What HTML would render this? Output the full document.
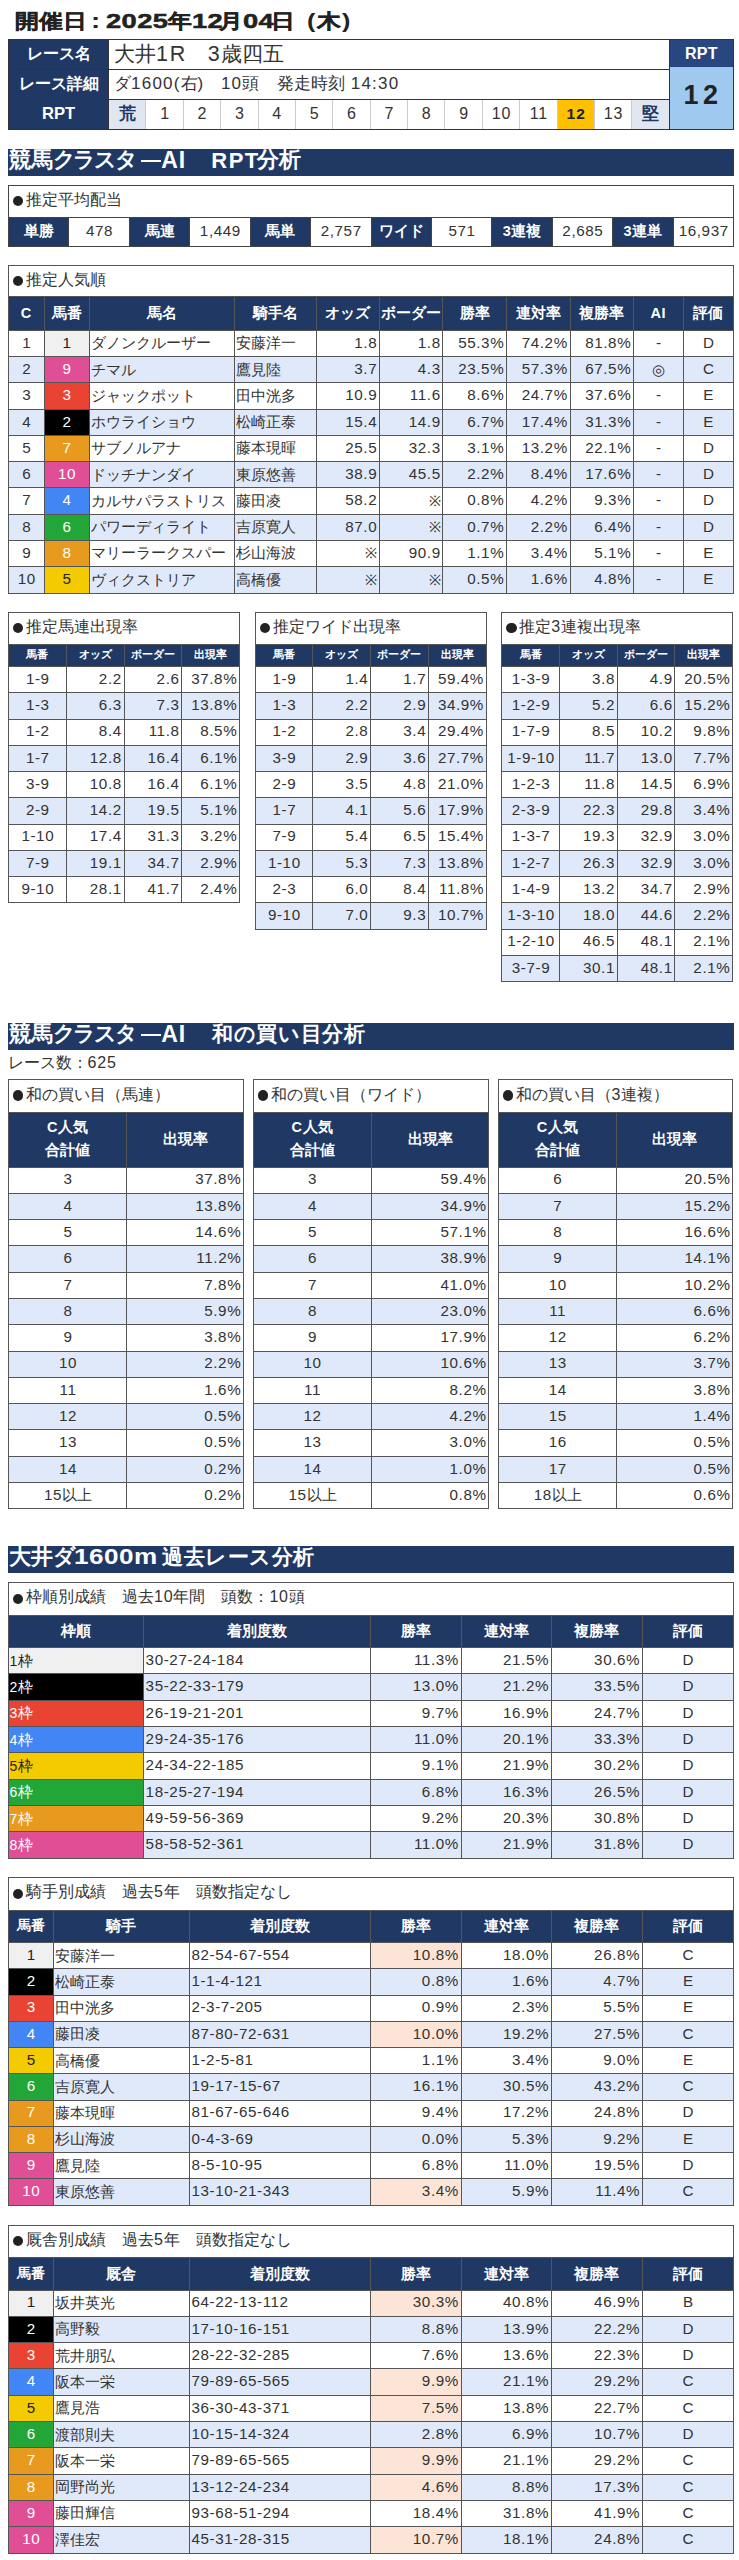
<!DOCTYPE html><html><head><meta charset="utf-8"><style>
*{margin:0;padding:0;box-sizing:border-box}
html,body{width:739px;height:2560px;background:#fff;overflow:hidden}
body{position:relative;font-family:"Liberation Sans",sans-serif;color:#333}
.r{position:absolute}
.t{position:absolute;white-space:nowrap;overflow:visible}
.dot{width:10.4px;height:10.4px;border-radius:50%;background:#222}
.title{font-weight:bold;color:#222}
.tj{font-size:23.6px}
.tn{font-size:21px;letter-spacing:3.45px}
.hl{color:#fff;font-weight:bold;font-size:15.7px}
.hlr{color:#fff;font-weight:bold;font-size:16.6px}
.rpth{color:#fff;font-weight:bold;font-size:16px;letter-spacing:0.3px}
.hb{color:#fff;font-weight:bold;font-size:14.6px}
.hn{font-size:14.5px;letter-spacing:0.6px}
.hs{color:#fff;font-weight:bold;font-size:11.4px}
.big{font-size:20.5px;color:#333}
.n19{font-size:21.5px;letter-spacing:1.6px}
.mid17{font-size:16.5px;color:#333}
.n17{font-size:17px;letter-spacing:1.2px}
.sec{font-size:16px;color:#333}
.sn{font-size:16px;letter-spacing:0.8px}
.d{font-size:15.2px;color:#333;letter-spacing:0.6px;margin-top:-0.6px}
.dj{font-size:14.5px;color:#333}
.dj2{font-size:14.5px;letter-spacing:0}
.wk{font-size:14px;letter-spacing:0}
.wj{font-size:14.5px;margin-left:0.5px}
.kj{font-size:17px;font-weight:bold;color:#203864}
.rn{font-size:16px;color:#333;letter-spacing:0.8px}
.b12{font-size:15.5px;font-weight:bold;color:#222;letter-spacing:1.2px}
.rpt{font-size:27px;font-weight:bold;color:#222;letter-spacing:4.5px}
.ban{font-size:21.5px;font-weight:bold;color:#fff}
.bn{font-size:23px;letter-spacing:1px}
</style></head><body>
<div class="t title" style="left:14.50px;top:3px;height:36px;line-height:36px;font-size:20px;transform:scaleX(1.19);transform-origin:0 0;-webkit-text-stroke:0.3px #222">開催日</div>
<div class="t title" style="left:90.50px;top:3px;height:36px;line-height:36px;font-size:22px;transform:scaleX(1.25);transform-origin:0 0">:</div>
<div class="t title" style="left:105.50px;top:3px;height:36px;line-height:36px;font-size:21px;letter-spacing:0.3px;transform:scaleX(1.3);transform-origin:0 0;-webkit-text-stroke:0.5px #222">2025</div>
<div class="t title" style="left:191.70px;top:3px;height:36px;line-height:36px;font-size:21px;letter-spacing:0.3px;transform:scaleX(1.3);transform-origin:0 0;-webkit-text-stroke:0.5px #222">12</div>
<div class="t title" style="left:243.10px;top:3px;height:36px;line-height:36px;font-size:21px;letter-spacing:0.3px;transform:scaleX(1.3);transform-origin:0 0;-webkit-text-stroke:0.5px #222">04</div>
<div class="t title" style="left:168.20px;top:3px;height:36px;line-height:36px;font-size:20px;transform:scaleX(1.19);transform-origin:0 0;-webkit-text-stroke:0.3px #222">年</div>
<div class="t title" style="left:219.00px;top:3px;height:36px;line-height:36px;font-size:20px;transform:scaleX(1.19);transform-origin:0 0;-webkit-text-stroke:0.3px #222">月</div>
<div class="t title" style="left:271.00px;top:3px;height:36px;line-height:36px;font-size:20px;transform:scaleX(1.19);transform-origin:0 0;-webkit-text-stroke:0.3px #222">日</div>
<div class="t title" style="left:307.00px;top:3px;height:36px;line-height:36px;font-size:21px;transform:scaleX(1.2);transform-origin:0 0">(</div>
<div class="t title" style="left:317.30px;top:3px;height:36px;line-height:36px;font-size:20px;transform:scaleX(1.19);transform-origin:0 0;-webkit-text-stroke:0.3px #222">木</div>
<div class="t title" style="left:342.00px;top:3px;height:36px;line-height:36px;font-size:21px;transform:scaleX(1.2);transform-origin:0 0">)</div>
<div class="r" style="left:8.50px;top:39.00px;width:100.10px;height:90.00px;background:#203864"></div>
<div class="t hl" style="left:8.50px;top:39.00px;width:100.10px;height:30.00px;line-height:30.00px;text-align:center;">レース名</div>
<div class="t hl" style="left:8.50px;top:69.00px;width:100.10px;height:30.00px;line-height:30.00px;text-align:center;">レース詳細</div>
<div class="t hlr" style="left:8.50px;top:99.00px;width:100.10px;height:30.00px;line-height:30.00px;text-align:center;">RPT</div>
<div class="t big" style="left:114.10px;top:38.50px;width:549.60px;height:30.00px;line-height:30.00px;text-align:left;">大井<span class="n19">1R</span>　<span class="n19">3</span>歳四五</div>
<div class="t mid17" style="left:114.10px;top:67.50px;width:549.60px;height:30.00px;line-height:30.00px;text-align:left;">ダ<span class="n17">1600(</span>右<span class="n17">)</span><span style="margin-left:16.5px"></span><span class="n17">10</span>頭<span style="margin-left:17.5px"></span>発走時刻<span style="margin-left:6px"></span><span class="n17">14:30</span></div>
<div class="r" style="left:108.60px;top:99.00px;width:37.37px;height:30.00px;background:#E1E7F1"></div>
<div class="t kj" style="left:108.60px;top:99.00px;width:37.37px;height:30.00px;line-height:30.00px;text-align:center;">荒</div>
<div class="t rn" style="left:145.97px;top:99.00px;width:37.37px;height:30.00px;line-height:30.00px;text-align:center;text-indent:0.8px">1</div>
<div class="t rn" style="left:183.35px;top:99.00px;width:37.37px;height:30.00px;line-height:30.00px;text-align:center;text-indent:0.8px">2</div>
<div class="t rn" style="left:220.72px;top:99.00px;width:37.37px;height:30.00px;line-height:30.00px;text-align:center;text-indent:0.8px">3</div>
<div class="t rn" style="left:258.09px;top:99.00px;width:37.37px;height:30.00px;line-height:30.00px;text-align:center;text-indent:0.8px">4</div>
<div class="t rn" style="left:295.47px;top:99.00px;width:37.37px;height:30.00px;line-height:30.00px;text-align:center;text-indent:0.8px">5</div>
<div class="t rn" style="left:332.84px;top:99.00px;width:37.37px;height:30.00px;line-height:30.00px;text-align:center;text-indent:0.8px">6</div>
<div class="t rn" style="left:370.21px;top:99.00px;width:37.37px;height:30.00px;line-height:30.00px;text-align:center;text-indent:0.8px">7</div>
<div class="t rn" style="left:407.59px;top:99.00px;width:37.37px;height:30.00px;line-height:30.00px;text-align:center;text-indent:0.8px">8</div>
<div class="t rn" style="left:444.96px;top:99.00px;width:37.37px;height:30.00px;line-height:30.00px;text-align:center;text-indent:0.8px">9</div>
<div class="t rn" style="left:482.33px;top:99.00px;width:37.37px;height:30.00px;line-height:30.00px;text-align:center;text-indent:0.8px">10</div>
<div class="t rn" style="left:519.71px;top:99.00px;width:37.37px;height:30.00px;line-height:30.00px;text-align:center;text-indent:0.8px">11</div>
<div class="r" style="left:557.08px;top:99.00px;width:37.37px;height:30.00px;background:#FFC000"></div>
<div class="t b12" style="left:557.08px;top:99.00px;width:37.37px;height:30.00px;line-height:30.00px;text-align:center;text-indent:1px">12</div>
<div class="t rn" style="left:594.45px;top:99.00px;width:37.37px;height:30.00px;line-height:30.00px;text-align:center;text-indent:0.8px">13</div>
<div class="r" style="left:631.83px;top:99.00px;width:37.37px;height:30.00px;background:#E1E7F1"></div>
<div class="t kj" style="left:631.83px;top:99.00px;width:37.37px;height:30.00px;line-height:30.00px;text-align:center;">堅</div>
<div class="r" style="left:145.47px;top:99.00px;width:1px;height:30.00px;background:#CCCCCC"></div>
<div class="r" style="left:182.85px;top:99.00px;width:1px;height:30.00px;background:#CCCCCC"></div>
<div class="r" style="left:220.22px;top:99.00px;width:1px;height:30.00px;background:#CCCCCC"></div>
<div class="r" style="left:257.59px;top:99.00px;width:1px;height:30.00px;background:#CCCCCC"></div>
<div class="r" style="left:294.97px;top:99.00px;width:1px;height:30.00px;background:#CCCCCC"></div>
<div class="r" style="left:332.34px;top:99.00px;width:1px;height:30.00px;background:#CCCCCC"></div>
<div class="r" style="left:369.71px;top:99.00px;width:1px;height:30.00px;background:#CCCCCC"></div>
<div class="r" style="left:407.09px;top:99.00px;width:1px;height:30.00px;background:#CCCCCC"></div>
<div class="r" style="left:444.46px;top:99.00px;width:1px;height:30.00px;background:#CCCCCC"></div>
<div class="r" style="left:481.83px;top:99.00px;width:1px;height:30.00px;background:#CCCCCC"></div>
<div class="r" style="left:519.21px;top:99.00px;width:1px;height:30.00px;background:#CCCCCC"></div>
<div class="r" style="left:556.58px;top:99.00px;width:1px;height:30.00px;background:#CCCCCC"></div>
<div class="r" style="left:593.95px;top:99.00px;width:1px;height:30.00px;background:#CCCCCC"></div>
<div class="r" style="left:631.33px;top:99.00px;width:1px;height:30.00px;background:#CCCCCC"></div>
<div class="r" style="left:8.00px;top:38.50px;width:661.20px;height:1px;background:#333"></div>
<div class="r" style="left:8.00px;top:68.50px;width:661.20px;height:1px;background:#333"></div>
<div class="r" style="left:8.00px;top:98.50px;width:661.20px;height:1px;background:#333"></div>
<div class="r" style="left:8.00px;top:128.50px;width:661.20px;height:1px;background:#333"></div>
<div class="r" style="left:8.00px;top:39.00px;width:1px;height:90.00px;background:#333"></div>
<div class="r" style="left:108.10px;top:39.00px;width:1px;height:90.00px;background:#333"></div>
<div class="r" style="left:669.20px;top:39.00px;width:64.30px;height:27.70px;background:#284780"></div>
<div class="r" style="left:669.20px;top:66.70px;width:64.30px;height:62.30px;background:#9FC9EE"></div>
<div class="t rpth" style="left:669.20px;top:39.50px;width:64.30px;height:27.70px;line-height:27.70px;text-align:center;">RPT</div>
<div class="t rpt" style="left:669.20px;top:64.20px;width:64.30px;height:62.30px;line-height:62.30px;text-align:center;text-indent:3.5px">12</div>
<div class="r" style="left:669.20px;top:38.50px;width:64.80px;height:1px;background:#333"></div>
<div class="r" style="left:669.20px;top:128.50px;width:64.80px;height:1px;background:#333"></div>
<div class="r" style="left:668.70px;top:39.00px;width:1px;height:90.00px;background:#333"></div>
<div class="r" style="left:733.00px;top:39.00px;width:1px;height:90.00px;background:#333"></div>
<div class="r" style="left:8.00px;top:149.00px;width:725.50px;height:27.00px;background:#203864"></div>
<div class="t ban" style="left:8.70px;top:146.50px;height:27.00px;line-height:27.00px;">競馬</div>
<div class="t ban" style="left:52.70px;top:146.50px;height:27.00px;line-height:27.00px;letter-spacing:-2.3px">クラスタ</div>
<div class="t ban" style="left:161.20px;top:146.50px;height:27.00px;line-height:27.00px;font-size:23px;letter-spacing:1px">AI</div>
<div class="t ban" style="left:211.30px;top:146.50px;height:27.00px;line-height:27.00px;font-size:22px;letter-spacing:1.5px">RPT</div>
<div class="t ban" style="left:256.50px;top:146.50px;height:27.00px;line-height:27.00px;">分析</div>
<div class="r" style="left:140.60px;top:159.50px;width:20.80px;height:2.10px;background:#fff"></div>
<div class="r dot" style="left:13.00px;top:195.80px"></div>
<div class="t sec" style="left:8.50px;top:183.50px;width:725.00px;height:32.00px;line-height:32.00px;text-align:left;left:26.00px">推定平均配当</div>
<div class="r" style="left:8.50px;top:217.00px;width:60.42px;height:29.00px;background:#203864"></div>
<div class="t hb" style="left:8.50px;top:217.00px;width:60.42px;height:29.00px;line-height:29.00px;text-align:center;">単勝</div>
<div class="t d" style="left:68.92px;top:217.00px;width:60.42px;height:29.00px;line-height:29.00px;text-align:center;text-indent:0.85px">478</div>
<div class="r" style="left:129.33px;top:217.00px;width:60.42px;height:29.00px;background:#203864"></div>
<div class="t hb" style="left:129.33px;top:217.00px;width:60.42px;height:29.00px;line-height:29.00px;text-align:center;">馬連</div>
<div class="t d" style="left:189.75px;top:217.00px;width:60.42px;height:29.00px;line-height:29.00px;text-align:center;text-indent:0.85px">1,449</div>
<div class="r" style="left:250.17px;top:217.00px;width:60.42px;height:29.00px;background:#203864"></div>
<div class="t hb" style="left:250.17px;top:217.00px;width:60.42px;height:29.00px;line-height:29.00px;text-align:center;">馬単</div>
<div class="t d" style="left:310.58px;top:217.00px;width:60.42px;height:29.00px;line-height:29.00px;text-align:center;text-indent:0.85px">2,757</div>
<div class="r" style="left:371.00px;top:217.00px;width:60.42px;height:29.00px;background:#203864"></div>
<div class="t hb" style="left:371.00px;top:217.00px;width:60.42px;height:29.00px;line-height:29.00px;text-align:center;">ワイド</div>
<div class="t d" style="left:431.42px;top:217.00px;width:60.42px;height:29.00px;line-height:29.00px;text-align:center;text-indent:0.85px">571</div>
<div class="r" style="left:491.83px;top:217.00px;width:60.42px;height:29.00px;background:#203864"></div>
<div class="t hb" style="left:491.83px;top:217.00px;width:60.42px;height:29.00px;line-height:29.00px;text-align:center;"><span class="hn">3</span>連複</div>
<div class="t d" style="left:552.25px;top:217.00px;width:60.42px;height:29.00px;line-height:29.00px;text-align:center;text-indent:0.85px">2,685</div>
<div class="r" style="left:612.67px;top:217.00px;width:60.42px;height:29.00px;background:#203864"></div>
<div class="t hb" style="left:612.67px;top:217.00px;width:60.42px;height:29.00px;line-height:29.00px;text-align:center;"><span class="hn">3</span>連単</div>
<div class="t d" style="left:673.08px;top:217.00px;width:60.42px;height:29.00px;line-height:29.00px;text-align:center;text-indent:0.85px">16,937</div>
<div class="r" style="left:8.00px;top:184.50px;width:726.00px;height:1px;background:#444"></div>
<div class="r" style="left:8.00px;top:216.50px;width:726.00px;height:1px;background:#444"></div>
<div class="r" style="left:8.00px;top:245.50px;width:726.00px;height:1px;background:#444"></div>
<div class="r" style="left:8.00px;top:185.00px;width:1px;height:61.00px;background:#444"></div>
<div class="r" style="left:733.00px;top:185.00px;width:1px;height:61.00px;background:#444"></div>
<div class="r" style="left:68.42px;top:217.00px;width:1px;height:29.00px;background:#444"></div>
<div class="r" style="left:128.83px;top:217.00px;width:1px;height:29.00px;background:#444"></div>
<div class="r" style="left:189.25px;top:217.00px;width:1px;height:29.00px;background:#444"></div>
<div class="r" style="left:249.67px;top:217.00px;width:1px;height:29.00px;background:#444"></div>
<div class="r" style="left:310.08px;top:217.00px;width:1px;height:29.00px;background:#444"></div>
<div class="r" style="left:370.50px;top:217.00px;width:1px;height:29.00px;background:#444"></div>
<div class="r" style="left:430.92px;top:217.00px;width:1px;height:29.00px;background:#444"></div>
<div class="r" style="left:491.33px;top:217.00px;width:1px;height:29.00px;background:#444"></div>
<div class="r" style="left:551.75px;top:217.00px;width:1px;height:29.00px;background:#444"></div>
<div class="r" style="left:612.17px;top:217.00px;width:1px;height:29.00px;background:#444"></div>
<div class="r" style="left:672.58px;top:217.00px;width:1px;height:29.00px;background:#444"></div>
<div class="r dot" style="left:13.00px;top:275.55px"></div>
<div class="t sec" style="left:8.50px;top:263.50px;width:724.70px;height:31.50px;line-height:31.50px;text-align:left;left:26.00px">推定人気順</div>
<div class="r" style="left:8.50px;top:296.50px;width:724.70px;height:33.80px;background:#203864"></div>
<div class="t hb" style="left:8.50px;top:296.50px;width:35.50px;height:33.80px;line-height:33.80px;text-align:center;"><span class="hn">C</span></div>
<div class="t hb" style="left:44.00px;top:296.50px;width:45.00px;height:33.80px;line-height:33.80px;text-align:center;">馬番</div>
<div class="t hb" style="left:89.00px;top:296.50px;width:145.00px;height:33.80px;line-height:33.80px;text-align:center;">馬名</div>
<div class="t hb" style="left:234.00px;top:296.50px;width:82.20px;height:33.80px;line-height:33.80px;text-align:center;">騎手名</div>
<div class="t hb" style="left:316.20px;top:296.50px;width:63.20px;height:33.80px;line-height:33.80px;text-align:center;">オッズ</div>
<div class="t hb" style="left:379.40px;top:296.50px;width:63.50px;height:33.80px;line-height:33.80px;text-align:center;">ボーダー</div>
<div class="t hb" style="left:442.90px;top:296.50px;width:63.60px;height:33.80px;line-height:33.80px;text-align:center;">勝率</div>
<div class="t hb" style="left:506.50px;top:296.50px;width:63.50px;height:33.80px;line-height:33.80px;text-align:center;">連対率</div>
<div class="t hb" style="left:570.00px;top:296.50px;width:63.50px;height:33.80px;line-height:33.80px;text-align:center;">複勝率</div>
<div class="t hb" style="left:633.50px;top:296.50px;width:49.80px;height:33.80px;line-height:33.80px;text-align:center;"><span class="hn">AI</span></div>
<div class="t hb" style="left:683.30px;top:296.50px;width:49.90px;height:33.80px;line-height:33.80px;text-align:center;">評価</div>
<div class="r" style="left:44.00px;top:330.30px;width:45.00px;height:26.27px;background:#F0F0F0"></div>
<div class="t d" style="left:8.50px;top:330.30px;width:35.50px;height:26.27px;line-height:26.27px;text-align:center;text-indent:0.85px;">1</div>
<div class="t d" style="left:44.00px;top:330.30px;width:45.00px;height:26.27px;line-height:26.27px;text-align:center;color:#222;text-indent:0.85px;">1</div>
<div class="t dj" style="left:91.00px;top:330.30px;width:141.00px;height:26.27px;line-height:26.27px;text-align:left;">ダノンクルーザー</div>
<div class="t dj" style="left:236.00px;top:330.30px;width:78.20px;height:26.27px;line-height:26.27px;text-align:left;">安藤洋一</div>
<div class="t d" style="left:318.40px;top:330.30px;width:58.80px;height:26.27px;line-height:26.27px;text-align:right;">1.8</div>
<div class="t d" style="left:381.60px;top:330.30px;width:59.10px;height:26.27px;line-height:26.27px;text-align:right;">1.8</div>
<div class="t d" style="left:445.10px;top:330.30px;width:59.20px;height:26.27px;line-height:26.27px;text-align:right;">55.3%</div>
<div class="t d" style="left:508.70px;top:330.30px;width:59.10px;height:26.27px;line-height:26.27px;text-align:right;">74.2%</div>
<div class="t d" style="left:572.20px;top:330.30px;width:59.10px;height:26.27px;line-height:26.27px;text-align:right;">81.8%</div>
<div class="t d" style="left:633.50px;top:330.30px;width:49.80px;height:26.27px;line-height:26.27px;text-align:center;text-indent:0.85px;">-</div>
<div class="t d" style="left:683.30px;top:330.30px;width:49.90px;height:26.27px;line-height:26.27px;text-align:center;text-indent:0.85px;">D</div>
<div class="r" style="left:8.50px;top:356.57px;width:724.70px;height:26.27px;background:#DFE9FA"></div>
<div class="r" style="left:44.00px;top:356.57px;width:45.00px;height:26.27px;background:#E04E96"></div>
<div class="t d" style="left:8.50px;top:356.57px;width:35.50px;height:26.27px;line-height:26.27px;text-align:center;text-indent:0.85px;">2</div>
<div class="t d" style="left:44.00px;top:356.57px;width:45.00px;height:26.27px;line-height:26.27px;text-align:center;color:#fff;text-indent:0.85px;">9</div>
<div class="t dj" style="left:91.00px;top:356.57px;width:141.00px;height:26.27px;line-height:26.27px;text-align:left;">チマル</div>
<div class="t dj" style="left:236.00px;top:356.57px;width:78.20px;height:26.27px;line-height:26.27px;text-align:left;">鷹見陸</div>
<div class="t d" style="left:318.40px;top:356.57px;width:58.80px;height:26.27px;line-height:26.27px;text-align:right;">3.7</div>
<div class="t d" style="left:381.60px;top:356.57px;width:59.10px;height:26.27px;line-height:26.27px;text-align:right;">4.3</div>
<div class="t d" style="left:445.10px;top:356.57px;width:59.20px;height:26.27px;line-height:26.27px;text-align:right;">23.5%</div>
<div class="t d" style="left:508.70px;top:356.57px;width:59.10px;height:26.27px;line-height:26.27px;text-align:right;">57.3%</div>
<div class="t d" style="left:572.20px;top:356.57px;width:59.10px;height:26.27px;line-height:26.27px;text-align:right;">67.5%</div>
<div class="t dj" style="left:633.50px;top:356.57px;width:49.80px;height:26.27px;line-height:26.27px;text-align:center;">◎</div>
<div class="t d" style="left:683.30px;top:356.57px;width:49.90px;height:26.27px;line-height:26.27px;text-align:center;text-indent:0.85px;">C</div>
<div class="r" style="left:44.00px;top:382.84px;width:45.00px;height:26.27px;background:#E94433"></div>
<div class="t d" style="left:8.50px;top:382.84px;width:35.50px;height:26.27px;line-height:26.27px;text-align:center;text-indent:0.85px;">3</div>
<div class="t d" style="left:44.00px;top:382.84px;width:45.00px;height:26.27px;line-height:26.27px;text-align:center;color:#fff;text-indent:0.85px;">3</div>
<div class="t dj" style="left:91.00px;top:382.84px;width:141.00px;height:26.27px;line-height:26.27px;text-align:left;">ジャックポット</div>
<div class="t dj" style="left:236.00px;top:382.84px;width:78.20px;height:26.27px;line-height:26.27px;text-align:left;">田中洸多</div>
<div class="t d" style="left:318.40px;top:382.84px;width:58.80px;height:26.27px;line-height:26.27px;text-align:right;">10.9</div>
<div class="t d" style="left:381.60px;top:382.84px;width:59.10px;height:26.27px;line-height:26.27px;text-align:right;">11.6</div>
<div class="t d" style="left:445.10px;top:382.84px;width:59.20px;height:26.27px;line-height:26.27px;text-align:right;">8.6%</div>
<div class="t d" style="left:508.70px;top:382.84px;width:59.10px;height:26.27px;line-height:26.27px;text-align:right;">24.7%</div>
<div class="t d" style="left:572.20px;top:382.84px;width:59.10px;height:26.27px;line-height:26.27px;text-align:right;">37.6%</div>
<div class="t d" style="left:633.50px;top:382.84px;width:49.80px;height:26.27px;line-height:26.27px;text-align:center;text-indent:0.85px;">-</div>
<div class="t d" style="left:683.30px;top:382.84px;width:49.90px;height:26.27px;line-height:26.27px;text-align:center;text-indent:0.85px;">E</div>
<div class="r" style="left:8.50px;top:409.11px;width:724.70px;height:26.27px;background:#DFE9FA"></div>
<div class="r" style="left:44.00px;top:409.11px;width:45.00px;height:26.27px;background:#000000"></div>
<div class="t d" style="left:8.50px;top:409.11px;width:35.50px;height:26.27px;line-height:26.27px;text-align:center;text-indent:0.85px;">4</div>
<div class="t d" style="left:44.00px;top:409.11px;width:45.00px;height:26.27px;line-height:26.27px;text-align:center;color:#fff;text-indent:0.85px;">2</div>
<div class="t dj" style="left:91.00px;top:409.11px;width:141.00px;height:26.27px;line-height:26.27px;text-align:left;">ホウライショウ</div>
<div class="t dj" style="left:236.00px;top:409.11px;width:78.20px;height:26.27px;line-height:26.27px;text-align:left;">松崎正泰</div>
<div class="t d" style="left:318.40px;top:409.11px;width:58.80px;height:26.27px;line-height:26.27px;text-align:right;">15.4</div>
<div class="t d" style="left:381.60px;top:409.11px;width:59.10px;height:26.27px;line-height:26.27px;text-align:right;">14.9</div>
<div class="t d" style="left:445.10px;top:409.11px;width:59.20px;height:26.27px;line-height:26.27px;text-align:right;">6.7%</div>
<div class="t d" style="left:508.70px;top:409.11px;width:59.10px;height:26.27px;line-height:26.27px;text-align:right;">17.4%</div>
<div class="t d" style="left:572.20px;top:409.11px;width:59.10px;height:26.27px;line-height:26.27px;text-align:right;">31.3%</div>
<div class="t d" style="left:633.50px;top:409.11px;width:49.80px;height:26.27px;line-height:26.27px;text-align:center;text-indent:0.85px;">-</div>
<div class="t d" style="left:683.30px;top:409.11px;width:49.90px;height:26.27px;line-height:26.27px;text-align:center;text-indent:0.85px;">E</div>
<div class="r" style="left:44.00px;top:435.38px;width:45.00px;height:26.27px;background:#E79A1E"></div>
<div class="t d" style="left:8.50px;top:435.38px;width:35.50px;height:26.27px;line-height:26.27px;text-align:center;text-indent:0.85px;">5</div>
<div class="t d" style="left:44.00px;top:435.38px;width:45.00px;height:26.27px;line-height:26.27px;text-align:center;color:#fff;text-indent:0.85px;">7</div>
<div class="t dj" style="left:91.00px;top:435.38px;width:141.00px;height:26.27px;line-height:26.27px;text-align:left;">サブノルアナ</div>
<div class="t dj" style="left:236.00px;top:435.38px;width:78.20px;height:26.27px;line-height:26.27px;text-align:left;">藤本現暉</div>
<div class="t d" style="left:318.40px;top:435.38px;width:58.80px;height:26.27px;line-height:26.27px;text-align:right;">25.5</div>
<div class="t d" style="left:381.60px;top:435.38px;width:59.10px;height:26.27px;line-height:26.27px;text-align:right;">32.3</div>
<div class="t d" style="left:445.10px;top:435.38px;width:59.20px;height:26.27px;line-height:26.27px;text-align:right;">3.1%</div>
<div class="t d" style="left:508.70px;top:435.38px;width:59.10px;height:26.27px;line-height:26.27px;text-align:right;">13.2%</div>
<div class="t d" style="left:572.20px;top:435.38px;width:59.10px;height:26.27px;line-height:26.27px;text-align:right;">22.1%</div>
<div class="t d" style="left:633.50px;top:435.38px;width:49.80px;height:26.27px;line-height:26.27px;text-align:center;text-indent:0.85px;">-</div>
<div class="t d" style="left:683.30px;top:435.38px;width:49.90px;height:26.27px;line-height:26.27px;text-align:center;text-indent:0.85px;">D</div>
<div class="r" style="left:8.50px;top:461.65px;width:724.70px;height:26.27px;background:#DFE9FA"></div>
<div class="r" style="left:44.00px;top:461.65px;width:45.00px;height:26.27px;background:#E04E96"></div>
<div class="t d" style="left:8.50px;top:461.65px;width:35.50px;height:26.27px;line-height:26.27px;text-align:center;text-indent:0.85px;">6</div>
<div class="t d" style="left:44.00px;top:461.65px;width:45.00px;height:26.27px;line-height:26.27px;text-align:center;color:#fff;text-indent:0.85px;">10</div>
<div class="t dj" style="left:91.00px;top:461.65px;width:141.00px;height:26.27px;line-height:26.27px;text-align:left;">ドッチナンダイ</div>
<div class="t dj" style="left:236.00px;top:461.65px;width:78.20px;height:26.27px;line-height:26.27px;text-align:left;">東原悠善</div>
<div class="t d" style="left:318.40px;top:461.65px;width:58.80px;height:26.27px;line-height:26.27px;text-align:right;">38.9</div>
<div class="t d" style="left:381.60px;top:461.65px;width:59.10px;height:26.27px;line-height:26.27px;text-align:right;">45.5</div>
<div class="t d" style="left:445.10px;top:461.65px;width:59.20px;height:26.27px;line-height:26.27px;text-align:right;">2.2%</div>
<div class="t d" style="left:508.70px;top:461.65px;width:59.10px;height:26.27px;line-height:26.27px;text-align:right;">8.4%</div>
<div class="t d" style="left:572.20px;top:461.65px;width:59.10px;height:26.27px;line-height:26.27px;text-align:right;">17.6%</div>
<div class="t d" style="left:633.50px;top:461.65px;width:49.80px;height:26.27px;line-height:26.27px;text-align:center;text-indent:0.85px;">-</div>
<div class="t d" style="left:683.30px;top:461.65px;width:49.90px;height:26.27px;line-height:26.27px;text-align:center;text-indent:0.85px;">D</div>
<div class="r" style="left:44.00px;top:487.92px;width:45.00px;height:26.27px;background:#4285F4"></div>
<div class="t d" style="left:8.50px;top:487.92px;width:35.50px;height:26.27px;line-height:26.27px;text-align:center;text-indent:0.85px;">7</div>
<div class="t d" style="left:44.00px;top:487.92px;width:45.00px;height:26.27px;line-height:26.27px;text-align:center;color:#fff;text-indent:0.85px;">4</div>
<div class="t dj" style="left:91.00px;top:487.92px;width:141.00px;height:26.27px;line-height:26.27px;text-align:left;">カルサパラストリス</div>
<div class="t dj" style="left:236.00px;top:487.92px;width:78.20px;height:26.27px;line-height:26.27px;text-align:left;">藤田凌</div>
<div class="t d" style="left:318.40px;top:487.92px;width:58.80px;height:26.27px;line-height:26.27px;text-align:right;">58.2</div>
<div class="t dj" style="left:381.60px;top:487.92px;width:59.10px;height:26.27px;line-height:26.27px;text-align:right;">※</div>
<div class="t d" style="left:445.10px;top:487.92px;width:59.20px;height:26.27px;line-height:26.27px;text-align:right;">0.8%</div>
<div class="t d" style="left:508.70px;top:487.92px;width:59.10px;height:26.27px;line-height:26.27px;text-align:right;">4.2%</div>
<div class="t d" style="left:572.20px;top:487.92px;width:59.10px;height:26.27px;line-height:26.27px;text-align:right;">9.3%</div>
<div class="t d" style="left:633.50px;top:487.92px;width:49.80px;height:26.27px;line-height:26.27px;text-align:center;text-indent:0.85px;">-</div>
<div class="t d" style="left:683.30px;top:487.92px;width:49.90px;height:26.27px;line-height:26.27px;text-align:center;text-indent:0.85px;">D</div>
<div class="r" style="left:8.50px;top:514.19px;width:724.70px;height:26.27px;background:#DFE9FA"></div>
<div class="r" style="left:44.00px;top:514.19px;width:45.00px;height:26.27px;background:#22A638"></div>
<div class="t d" style="left:8.50px;top:514.19px;width:35.50px;height:26.27px;line-height:26.27px;text-align:center;text-indent:0.85px;">8</div>
<div class="t d" style="left:44.00px;top:514.19px;width:45.00px;height:26.27px;line-height:26.27px;text-align:center;color:#fff;text-indent:0.85px;">6</div>
<div class="t dj" style="left:91.00px;top:514.19px;width:141.00px;height:26.27px;line-height:26.27px;text-align:left;">パワーディライト</div>
<div class="t dj" style="left:236.00px;top:514.19px;width:78.20px;height:26.27px;line-height:26.27px;text-align:left;">吉原寛人</div>
<div class="t d" style="left:318.40px;top:514.19px;width:58.80px;height:26.27px;line-height:26.27px;text-align:right;">87.0</div>
<div class="t dj" style="left:381.60px;top:514.19px;width:59.10px;height:26.27px;line-height:26.27px;text-align:right;">※</div>
<div class="t d" style="left:445.10px;top:514.19px;width:59.20px;height:26.27px;line-height:26.27px;text-align:right;">0.7%</div>
<div class="t d" style="left:508.70px;top:514.19px;width:59.10px;height:26.27px;line-height:26.27px;text-align:right;">2.2%</div>
<div class="t d" style="left:572.20px;top:514.19px;width:59.10px;height:26.27px;line-height:26.27px;text-align:right;">6.4%</div>
<div class="t d" style="left:633.50px;top:514.19px;width:49.80px;height:26.27px;line-height:26.27px;text-align:center;text-indent:0.85px;">-</div>
<div class="t d" style="left:683.30px;top:514.19px;width:49.90px;height:26.27px;line-height:26.27px;text-align:center;text-indent:0.85px;">D</div>
<div class="r" style="left:44.00px;top:540.46px;width:45.00px;height:26.27px;background:#E79A1E"></div>
<div class="t d" style="left:8.50px;top:540.46px;width:35.50px;height:26.27px;line-height:26.27px;text-align:center;text-indent:0.85px;">9</div>
<div class="t d" style="left:44.00px;top:540.46px;width:45.00px;height:26.27px;line-height:26.27px;text-align:center;color:#fff;text-indent:0.85px;">8</div>
<div class="t dj" style="left:91.00px;top:540.46px;width:141.00px;height:26.27px;line-height:26.27px;text-align:left;">マリーラークスパー</div>
<div class="t dj" style="left:236.00px;top:540.46px;width:78.20px;height:26.27px;line-height:26.27px;text-align:left;">杉山海波</div>
<div class="t dj" style="left:318.40px;top:540.46px;width:58.80px;height:26.27px;line-height:26.27px;text-align:right;">※</div>
<div class="t d" style="left:381.60px;top:540.46px;width:59.10px;height:26.27px;line-height:26.27px;text-align:right;">90.9</div>
<div class="t d" style="left:445.10px;top:540.46px;width:59.20px;height:26.27px;line-height:26.27px;text-align:right;">1.1%</div>
<div class="t d" style="left:508.70px;top:540.46px;width:59.10px;height:26.27px;line-height:26.27px;text-align:right;">3.4%</div>
<div class="t d" style="left:572.20px;top:540.46px;width:59.10px;height:26.27px;line-height:26.27px;text-align:right;">5.1%</div>
<div class="t d" style="left:633.50px;top:540.46px;width:49.80px;height:26.27px;line-height:26.27px;text-align:center;text-indent:0.85px;">-</div>
<div class="t d" style="left:683.30px;top:540.46px;width:49.90px;height:26.27px;line-height:26.27px;text-align:center;text-indent:0.85px;">E</div>
<div class="r" style="left:8.50px;top:566.73px;width:724.70px;height:26.27px;background:#DFE9FA"></div>
<div class="r" style="left:44.00px;top:566.73px;width:45.00px;height:26.27px;background:#F4CB00"></div>
<div class="t d" style="left:8.50px;top:566.73px;width:35.50px;height:26.27px;line-height:26.27px;text-align:center;text-indent:0.85px;">10</div>
<div class="t d" style="left:44.00px;top:566.73px;width:45.00px;height:26.27px;line-height:26.27px;text-align:center;color:#222;text-indent:0.85px;">5</div>
<div class="t dj" style="left:91.00px;top:566.73px;width:141.00px;height:26.27px;line-height:26.27px;text-align:left;">ヴィクストリア</div>
<div class="t dj" style="left:236.00px;top:566.73px;width:78.20px;height:26.27px;line-height:26.27px;text-align:left;">高橋優</div>
<div class="t dj" style="left:318.40px;top:566.73px;width:58.80px;height:26.27px;line-height:26.27px;text-align:right;">※</div>
<div class="t dj" style="left:381.60px;top:566.73px;width:59.10px;height:26.27px;line-height:26.27px;text-align:right;">※</div>
<div class="t d" style="left:445.10px;top:566.73px;width:59.20px;height:26.27px;line-height:26.27px;text-align:right;">0.5%</div>
<div class="t d" style="left:508.70px;top:566.73px;width:59.10px;height:26.27px;line-height:26.27px;text-align:right;">1.6%</div>
<div class="t d" style="left:572.20px;top:566.73px;width:59.10px;height:26.27px;line-height:26.27px;text-align:right;">4.8%</div>
<div class="t d" style="left:633.50px;top:566.73px;width:49.80px;height:26.27px;line-height:26.27px;text-align:center;text-indent:0.85px;">-</div>
<div class="t d" style="left:683.30px;top:566.73px;width:49.90px;height:26.27px;line-height:26.27px;text-align:center;text-indent:0.85px;">E</div>
<div class="r" style="left:8.00px;top:296.00px;width:725.70px;height:1px;background:#555555"></div>
<div class="r" style="left:8.00px;top:329.80px;width:725.70px;height:1px;background:#555555"></div>
<div class="r" style="left:8.00px;top:356.07px;width:725.70px;height:1px;background:#555555"></div>
<div class="r" style="left:8.00px;top:382.34px;width:725.70px;height:1px;background:#555555"></div>
<div class="r" style="left:8.00px;top:408.61px;width:725.70px;height:1px;background:#555555"></div>
<div class="r" style="left:8.00px;top:434.88px;width:725.70px;height:1px;background:#555555"></div>
<div class="r" style="left:8.00px;top:461.15px;width:725.70px;height:1px;background:#555555"></div>
<div class="r" style="left:8.00px;top:487.42px;width:725.70px;height:1px;background:#555555"></div>
<div class="r" style="left:8.00px;top:513.69px;width:725.70px;height:1px;background:#555555"></div>
<div class="r" style="left:8.00px;top:539.96px;width:725.70px;height:1px;background:#555555"></div>
<div class="r" style="left:8.00px;top:566.23px;width:725.70px;height:1px;background:#555555"></div>
<div class="r" style="left:8.00px;top:592.50px;width:725.70px;height:1px;background:#555555"></div>
<div class="r" style="left:8.00px;top:296.00px;width:1px;height:297.50px;background:#555555"></div>
<div class="r" style="left:43.50px;top:296.00px;width:1px;height:297.50px;background:#555555"></div>
<div class="r" style="left:88.50px;top:296.00px;width:1px;height:297.50px;background:#555555"></div>
<div class="r" style="left:233.50px;top:296.00px;width:1px;height:297.50px;background:#555555"></div>
<div class="r" style="left:315.70px;top:296.00px;width:1px;height:297.50px;background:#555555"></div>
<div class="r" style="left:378.90px;top:296.00px;width:1px;height:297.50px;background:#555555"></div>
<div class="r" style="left:442.40px;top:296.00px;width:1px;height:297.50px;background:#555555"></div>
<div class="r" style="left:506.00px;top:296.00px;width:1px;height:297.50px;background:#555555"></div>
<div class="r" style="left:569.50px;top:296.00px;width:1px;height:297.50px;background:#555555"></div>
<div class="r" style="left:633.00px;top:296.00px;width:1px;height:297.50px;background:#555555"></div>
<div class="r" style="left:682.80px;top:296.00px;width:1px;height:297.50px;background:#555555"></div>
<div class="r" style="left:732.70px;top:296.00px;width:1px;height:297.50px;background:#555555"></div>
<div class="r" style="left:8.00px;top:264.50px;width:725.70px;height:1px;background:#555555"></div>
<div class="r" style="left:8.00px;top:265.00px;width:1px;height:31.50px;background:#555555"></div>
<div class="r" style="left:732.70px;top:265.00px;width:1px;height:31.50px;background:#555555"></div>
<div class="r dot" style="left:13.00px;top:622.80px"></div>
<div class="t sec" style="left:8.50px;top:610.50px;width:231.00px;height:32.00px;line-height:32.00px;text-align:left;left:26.00px">推定馬連出現率</div>
<div class="r" style="left:8.50px;top:644.00px;width:231.00px;height:22.50px;background:#203864"></div>
<div class="t hs" style="left:8.50px;top:643.00px;width:57.75px;height:22.50px;line-height:22.50px;text-align:center;">馬番</div>
<div class="t hs" style="left:66.25px;top:643.00px;width:57.75px;height:22.50px;line-height:22.50px;text-align:center;">オッズ</div>
<div class="t hs" style="left:124.00px;top:643.00px;width:57.75px;height:22.50px;line-height:22.50px;text-align:center;">ボーダー</div>
<div class="t hs" style="left:181.75px;top:643.00px;width:57.75px;height:22.50px;line-height:22.50px;text-align:center;">出現率</div>
<div class="t d" style="left:8.50px;top:666.50px;width:57.75px;height:26.25px;line-height:26.25px;text-align:center;text-indent:0.85px">1-9</div>
<div class="t d" style="left:68.45px;top:666.50px;width:53.35px;height:26.25px;line-height:26.25px;text-align:right;">2.2</div>
<div class="t d" style="left:126.20px;top:666.50px;width:53.35px;height:26.25px;line-height:26.25px;text-align:right;">2.6</div>
<div class="t d" style="left:183.95px;top:666.50px;width:53.35px;height:26.25px;line-height:26.25px;text-align:right;">37.8%</div>
<div class="r" style="left:8.50px;top:692.75px;width:231.00px;height:26.25px;background:#DFE9FA"></div>
<div class="t d" style="left:8.50px;top:692.75px;width:57.75px;height:26.25px;line-height:26.25px;text-align:center;text-indent:0.85px">1-3</div>
<div class="t d" style="left:68.45px;top:692.75px;width:53.35px;height:26.25px;line-height:26.25px;text-align:right;">6.3</div>
<div class="t d" style="left:126.20px;top:692.75px;width:53.35px;height:26.25px;line-height:26.25px;text-align:right;">7.3</div>
<div class="t d" style="left:183.95px;top:692.75px;width:53.35px;height:26.25px;line-height:26.25px;text-align:right;">13.8%</div>
<div class="t d" style="left:8.50px;top:719.00px;width:57.75px;height:26.25px;line-height:26.25px;text-align:center;text-indent:0.85px">1-2</div>
<div class="t d" style="left:68.45px;top:719.00px;width:53.35px;height:26.25px;line-height:26.25px;text-align:right;">8.4</div>
<div class="t d" style="left:126.20px;top:719.00px;width:53.35px;height:26.25px;line-height:26.25px;text-align:right;">11.8</div>
<div class="t d" style="left:183.95px;top:719.00px;width:53.35px;height:26.25px;line-height:26.25px;text-align:right;">8.5%</div>
<div class="r" style="left:8.50px;top:745.25px;width:231.00px;height:26.25px;background:#DFE9FA"></div>
<div class="t d" style="left:8.50px;top:745.25px;width:57.75px;height:26.25px;line-height:26.25px;text-align:center;text-indent:0.85px">1-7</div>
<div class="t d" style="left:68.45px;top:745.25px;width:53.35px;height:26.25px;line-height:26.25px;text-align:right;">12.8</div>
<div class="t d" style="left:126.20px;top:745.25px;width:53.35px;height:26.25px;line-height:26.25px;text-align:right;">16.4</div>
<div class="t d" style="left:183.95px;top:745.25px;width:53.35px;height:26.25px;line-height:26.25px;text-align:right;">6.1%</div>
<div class="t d" style="left:8.50px;top:771.50px;width:57.75px;height:26.25px;line-height:26.25px;text-align:center;text-indent:0.85px">3-9</div>
<div class="t d" style="left:68.45px;top:771.50px;width:53.35px;height:26.25px;line-height:26.25px;text-align:right;">10.8</div>
<div class="t d" style="left:126.20px;top:771.50px;width:53.35px;height:26.25px;line-height:26.25px;text-align:right;">16.4</div>
<div class="t d" style="left:183.95px;top:771.50px;width:53.35px;height:26.25px;line-height:26.25px;text-align:right;">6.1%</div>
<div class="r" style="left:8.50px;top:797.75px;width:231.00px;height:26.25px;background:#DFE9FA"></div>
<div class="t d" style="left:8.50px;top:797.75px;width:57.75px;height:26.25px;line-height:26.25px;text-align:center;text-indent:0.85px">2-9</div>
<div class="t d" style="left:68.45px;top:797.75px;width:53.35px;height:26.25px;line-height:26.25px;text-align:right;">14.2</div>
<div class="t d" style="left:126.20px;top:797.75px;width:53.35px;height:26.25px;line-height:26.25px;text-align:right;">19.5</div>
<div class="t d" style="left:183.95px;top:797.75px;width:53.35px;height:26.25px;line-height:26.25px;text-align:right;">5.1%</div>
<div class="t d" style="left:8.50px;top:824.00px;width:57.75px;height:26.25px;line-height:26.25px;text-align:center;text-indent:0.85px">1-10</div>
<div class="t d" style="left:68.45px;top:824.00px;width:53.35px;height:26.25px;line-height:26.25px;text-align:right;">17.4</div>
<div class="t d" style="left:126.20px;top:824.00px;width:53.35px;height:26.25px;line-height:26.25px;text-align:right;">31.3</div>
<div class="t d" style="left:183.95px;top:824.00px;width:53.35px;height:26.25px;line-height:26.25px;text-align:right;">3.2%</div>
<div class="r" style="left:8.50px;top:850.25px;width:231.00px;height:26.25px;background:#DFE9FA"></div>
<div class="t d" style="left:8.50px;top:850.25px;width:57.75px;height:26.25px;line-height:26.25px;text-align:center;text-indent:0.85px">7-9</div>
<div class="t d" style="left:68.45px;top:850.25px;width:53.35px;height:26.25px;line-height:26.25px;text-align:right;">19.1</div>
<div class="t d" style="left:126.20px;top:850.25px;width:53.35px;height:26.25px;line-height:26.25px;text-align:right;">34.7</div>
<div class="t d" style="left:183.95px;top:850.25px;width:53.35px;height:26.25px;line-height:26.25px;text-align:right;">2.9%</div>
<div class="t d" style="left:8.50px;top:876.50px;width:57.75px;height:26.25px;line-height:26.25px;text-align:center;text-indent:0.85px">9-10</div>
<div class="t d" style="left:68.45px;top:876.50px;width:53.35px;height:26.25px;line-height:26.25px;text-align:right;">28.1</div>
<div class="t d" style="left:126.20px;top:876.50px;width:53.35px;height:26.25px;line-height:26.25px;text-align:right;">41.7</div>
<div class="t d" style="left:183.95px;top:876.50px;width:53.35px;height:26.25px;line-height:26.25px;text-align:right;">2.4%</div>
<div class="r" style="left:8.00px;top:643.50px;width:232.00px;height:1px;background:#555555"></div>
<div class="r" style="left:8.00px;top:666.00px;width:232.00px;height:1px;background:#555555"></div>
<div class="r" style="left:8.00px;top:692.25px;width:232.00px;height:1px;background:#555555"></div>
<div class="r" style="left:8.00px;top:718.50px;width:232.00px;height:1px;background:#555555"></div>
<div class="r" style="left:8.00px;top:744.75px;width:232.00px;height:1px;background:#555555"></div>
<div class="r" style="left:8.00px;top:771.00px;width:232.00px;height:1px;background:#555555"></div>
<div class="r" style="left:8.00px;top:797.25px;width:232.00px;height:1px;background:#555555"></div>
<div class="r" style="left:8.00px;top:823.50px;width:232.00px;height:1px;background:#555555"></div>
<div class="r" style="left:8.00px;top:849.75px;width:232.00px;height:1px;background:#555555"></div>
<div class="r" style="left:8.00px;top:876.00px;width:232.00px;height:1px;background:#555555"></div>
<div class="r" style="left:8.00px;top:902.25px;width:232.00px;height:1px;background:#555555"></div>
<div class="r" style="left:8.00px;top:643.50px;width:1px;height:259.75px;background:#555555"></div>
<div class="r" style="left:65.75px;top:643.50px;width:1px;height:259.75px;background:#555555"></div>
<div class="r" style="left:123.50px;top:643.50px;width:1px;height:259.75px;background:#555555"></div>
<div class="r" style="left:181.25px;top:643.50px;width:1px;height:259.75px;background:#555555"></div>
<div class="r" style="left:239.00px;top:643.50px;width:1px;height:259.75px;background:#555555"></div>
<div class="r" style="left:8.00px;top:611.50px;width:232.00px;height:1px;background:#555555"></div>
<div class="r" style="left:8.00px;top:612.00px;width:1px;height:32.00px;background:#555555"></div>
<div class="r" style="left:239.00px;top:612.00px;width:1px;height:32.00px;background:#555555"></div>
<div class="r dot" style="left:259.50px;top:622.80px"></div>
<div class="t sec" style="left:255.00px;top:610.50px;width:231.20px;height:32.00px;line-height:32.00px;text-align:left;left:272.50px">推定ワイド出現率</div>
<div class="r" style="left:255.00px;top:644.00px;width:231.20px;height:22.50px;background:#203864"></div>
<div class="t hs" style="left:255.00px;top:643.00px;width:57.80px;height:22.50px;line-height:22.50px;text-align:center;">馬番</div>
<div class="t hs" style="left:312.80px;top:643.00px;width:57.80px;height:22.50px;line-height:22.50px;text-align:center;">オッズ</div>
<div class="t hs" style="left:370.60px;top:643.00px;width:57.80px;height:22.50px;line-height:22.50px;text-align:center;">ボーダー</div>
<div class="t hs" style="left:428.40px;top:643.00px;width:57.80px;height:22.50px;line-height:22.50px;text-align:center;">出現率</div>
<div class="t d" style="left:255.00px;top:666.50px;width:57.80px;height:26.25px;line-height:26.25px;text-align:center;text-indent:0.85px">1-9</div>
<div class="t d" style="left:315.00px;top:666.50px;width:53.40px;height:26.25px;line-height:26.25px;text-align:right;">1.4</div>
<div class="t d" style="left:372.80px;top:666.50px;width:53.40px;height:26.25px;line-height:26.25px;text-align:right;">1.7</div>
<div class="t d" style="left:430.60px;top:666.50px;width:53.40px;height:26.25px;line-height:26.25px;text-align:right;">59.4%</div>
<div class="r" style="left:255.00px;top:692.75px;width:231.20px;height:26.25px;background:#DFE9FA"></div>
<div class="t d" style="left:255.00px;top:692.75px;width:57.80px;height:26.25px;line-height:26.25px;text-align:center;text-indent:0.85px">1-3</div>
<div class="t d" style="left:315.00px;top:692.75px;width:53.40px;height:26.25px;line-height:26.25px;text-align:right;">2.2</div>
<div class="t d" style="left:372.80px;top:692.75px;width:53.40px;height:26.25px;line-height:26.25px;text-align:right;">2.9</div>
<div class="t d" style="left:430.60px;top:692.75px;width:53.40px;height:26.25px;line-height:26.25px;text-align:right;">34.9%</div>
<div class="t d" style="left:255.00px;top:719.00px;width:57.80px;height:26.25px;line-height:26.25px;text-align:center;text-indent:0.85px">1-2</div>
<div class="t d" style="left:315.00px;top:719.00px;width:53.40px;height:26.25px;line-height:26.25px;text-align:right;">2.8</div>
<div class="t d" style="left:372.80px;top:719.00px;width:53.40px;height:26.25px;line-height:26.25px;text-align:right;">3.4</div>
<div class="t d" style="left:430.60px;top:719.00px;width:53.40px;height:26.25px;line-height:26.25px;text-align:right;">29.4%</div>
<div class="r" style="left:255.00px;top:745.25px;width:231.20px;height:26.25px;background:#DFE9FA"></div>
<div class="t d" style="left:255.00px;top:745.25px;width:57.80px;height:26.25px;line-height:26.25px;text-align:center;text-indent:0.85px">3-9</div>
<div class="t d" style="left:315.00px;top:745.25px;width:53.40px;height:26.25px;line-height:26.25px;text-align:right;">2.9</div>
<div class="t d" style="left:372.80px;top:745.25px;width:53.40px;height:26.25px;line-height:26.25px;text-align:right;">3.6</div>
<div class="t d" style="left:430.60px;top:745.25px;width:53.40px;height:26.25px;line-height:26.25px;text-align:right;">27.7%</div>
<div class="t d" style="left:255.00px;top:771.50px;width:57.80px;height:26.25px;line-height:26.25px;text-align:center;text-indent:0.85px">2-9</div>
<div class="t d" style="left:315.00px;top:771.50px;width:53.40px;height:26.25px;line-height:26.25px;text-align:right;">3.5</div>
<div class="t d" style="left:372.80px;top:771.50px;width:53.40px;height:26.25px;line-height:26.25px;text-align:right;">4.8</div>
<div class="t d" style="left:430.60px;top:771.50px;width:53.40px;height:26.25px;line-height:26.25px;text-align:right;">21.0%</div>
<div class="r" style="left:255.00px;top:797.75px;width:231.20px;height:26.25px;background:#DFE9FA"></div>
<div class="t d" style="left:255.00px;top:797.75px;width:57.80px;height:26.25px;line-height:26.25px;text-align:center;text-indent:0.85px">1-7</div>
<div class="t d" style="left:315.00px;top:797.75px;width:53.40px;height:26.25px;line-height:26.25px;text-align:right;">4.1</div>
<div class="t d" style="left:372.80px;top:797.75px;width:53.40px;height:26.25px;line-height:26.25px;text-align:right;">5.6</div>
<div class="t d" style="left:430.60px;top:797.75px;width:53.40px;height:26.25px;line-height:26.25px;text-align:right;">17.9%</div>
<div class="t d" style="left:255.00px;top:824.00px;width:57.80px;height:26.25px;line-height:26.25px;text-align:center;text-indent:0.85px">7-9</div>
<div class="t d" style="left:315.00px;top:824.00px;width:53.40px;height:26.25px;line-height:26.25px;text-align:right;">5.4</div>
<div class="t d" style="left:372.80px;top:824.00px;width:53.40px;height:26.25px;line-height:26.25px;text-align:right;">6.5</div>
<div class="t d" style="left:430.60px;top:824.00px;width:53.40px;height:26.25px;line-height:26.25px;text-align:right;">15.4%</div>
<div class="r" style="left:255.00px;top:850.25px;width:231.20px;height:26.25px;background:#DFE9FA"></div>
<div class="t d" style="left:255.00px;top:850.25px;width:57.80px;height:26.25px;line-height:26.25px;text-align:center;text-indent:0.85px">1-10</div>
<div class="t d" style="left:315.00px;top:850.25px;width:53.40px;height:26.25px;line-height:26.25px;text-align:right;">5.3</div>
<div class="t d" style="left:372.80px;top:850.25px;width:53.40px;height:26.25px;line-height:26.25px;text-align:right;">7.3</div>
<div class="t d" style="left:430.60px;top:850.25px;width:53.40px;height:26.25px;line-height:26.25px;text-align:right;">13.8%</div>
<div class="t d" style="left:255.00px;top:876.50px;width:57.80px;height:26.25px;line-height:26.25px;text-align:center;text-indent:0.85px">2-3</div>
<div class="t d" style="left:315.00px;top:876.50px;width:53.40px;height:26.25px;line-height:26.25px;text-align:right;">6.0</div>
<div class="t d" style="left:372.80px;top:876.50px;width:53.40px;height:26.25px;line-height:26.25px;text-align:right;">8.4</div>
<div class="t d" style="left:430.60px;top:876.50px;width:53.40px;height:26.25px;line-height:26.25px;text-align:right;">11.8%</div>
<div class="r" style="left:255.00px;top:902.75px;width:231.20px;height:26.25px;background:#DFE9FA"></div>
<div class="t d" style="left:255.00px;top:902.75px;width:57.80px;height:26.25px;line-height:26.25px;text-align:center;text-indent:0.85px">9-10</div>
<div class="t d" style="left:315.00px;top:902.75px;width:53.40px;height:26.25px;line-height:26.25px;text-align:right;">7.0</div>
<div class="t d" style="left:372.80px;top:902.75px;width:53.40px;height:26.25px;line-height:26.25px;text-align:right;">9.3</div>
<div class="t d" style="left:430.60px;top:902.75px;width:53.40px;height:26.25px;line-height:26.25px;text-align:right;">10.7%</div>
<div class="r" style="left:254.50px;top:643.50px;width:232.20px;height:1px;background:#555555"></div>
<div class="r" style="left:254.50px;top:666.00px;width:232.20px;height:1px;background:#555555"></div>
<div class="r" style="left:254.50px;top:692.25px;width:232.20px;height:1px;background:#555555"></div>
<div class="r" style="left:254.50px;top:718.50px;width:232.20px;height:1px;background:#555555"></div>
<div class="r" style="left:254.50px;top:744.75px;width:232.20px;height:1px;background:#555555"></div>
<div class="r" style="left:254.50px;top:771.00px;width:232.20px;height:1px;background:#555555"></div>
<div class="r" style="left:254.50px;top:797.25px;width:232.20px;height:1px;background:#555555"></div>
<div class="r" style="left:254.50px;top:823.50px;width:232.20px;height:1px;background:#555555"></div>
<div class="r" style="left:254.50px;top:849.75px;width:232.20px;height:1px;background:#555555"></div>
<div class="r" style="left:254.50px;top:876.00px;width:232.20px;height:1px;background:#555555"></div>
<div class="r" style="left:254.50px;top:902.25px;width:232.20px;height:1px;background:#555555"></div>
<div class="r" style="left:254.50px;top:928.50px;width:232.20px;height:1px;background:#555555"></div>
<div class="r" style="left:254.50px;top:643.50px;width:1px;height:286.00px;background:#555555"></div>
<div class="r" style="left:312.30px;top:643.50px;width:1px;height:286.00px;background:#555555"></div>
<div class="r" style="left:370.10px;top:643.50px;width:1px;height:286.00px;background:#555555"></div>
<div class="r" style="left:427.90px;top:643.50px;width:1px;height:286.00px;background:#555555"></div>
<div class="r" style="left:485.70px;top:643.50px;width:1px;height:286.00px;background:#555555"></div>
<div class="r" style="left:254.50px;top:611.50px;width:232.20px;height:1px;background:#555555"></div>
<div class="r" style="left:254.50px;top:612.00px;width:1px;height:32.00px;background:#555555"></div>
<div class="r" style="left:485.70px;top:612.00px;width:1px;height:32.00px;background:#555555"></div>
<div class="r dot" style="left:506.30px;top:622.80px"></div>
<div class="t sec" style="left:501.80px;top:610.50px;width:230.80px;height:32.00px;line-height:32.00px;text-align:left;left:519.30px">推定<span class="sn">3</span>連複出現率</div>
<div class="r" style="left:501.80px;top:644.00px;width:230.80px;height:22.50px;background:#203864"></div>
<div class="t hs" style="left:501.80px;top:643.00px;width:57.70px;height:22.50px;line-height:22.50px;text-align:center;">馬番</div>
<div class="t hs" style="left:559.50px;top:643.00px;width:57.70px;height:22.50px;line-height:22.50px;text-align:center;">オッズ</div>
<div class="t hs" style="left:617.20px;top:643.00px;width:57.70px;height:22.50px;line-height:22.50px;text-align:center;">ボーダー</div>
<div class="t hs" style="left:674.90px;top:643.00px;width:57.70px;height:22.50px;line-height:22.50px;text-align:center;">出現率</div>
<div class="t d" style="left:501.80px;top:666.50px;width:57.70px;height:26.25px;line-height:26.25px;text-align:center;text-indent:0.85px">1-3-9</div>
<div class="t d" style="left:561.70px;top:666.50px;width:53.30px;height:26.25px;line-height:26.25px;text-align:right;">3.8</div>
<div class="t d" style="left:619.40px;top:666.50px;width:53.30px;height:26.25px;line-height:26.25px;text-align:right;">4.9</div>
<div class="t d" style="left:677.10px;top:666.50px;width:53.30px;height:26.25px;line-height:26.25px;text-align:right;">20.5%</div>
<div class="r" style="left:501.80px;top:692.75px;width:230.80px;height:26.25px;background:#DFE9FA"></div>
<div class="t d" style="left:501.80px;top:692.75px;width:57.70px;height:26.25px;line-height:26.25px;text-align:center;text-indent:0.85px">1-2-9</div>
<div class="t d" style="left:561.70px;top:692.75px;width:53.30px;height:26.25px;line-height:26.25px;text-align:right;">5.2</div>
<div class="t d" style="left:619.40px;top:692.75px;width:53.30px;height:26.25px;line-height:26.25px;text-align:right;">6.6</div>
<div class="t d" style="left:677.10px;top:692.75px;width:53.30px;height:26.25px;line-height:26.25px;text-align:right;">15.2%</div>
<div class="t d" style="left:501.80px;top:719.00px;width:57.70px;height:26.25px;line-height:26.25px;text-align:center;text-indent:0.85px">1-7-9</div>
<div class="t d" style="left:561.70px;top:719.00px;width:53.30px;height:26.25px;line-height:26.25px;text-align:right;">8.5</div>
<div class="t d" style="left:619.40px;top:719.00px;width:53.30px;height:26.25px;line-height:26.25px;text-align:right;">10.2</div>
<div class="t d" style="left:677.10px;top:719.00px;width:53.30px;height:26.25px;line-height:26.25px;text-align:right;">9.8%</div>
<div class="r" style="left:501.80px;top:745.25px;width:230.80px;height:26.25px;background:#DFE9FA"></div>
<div class="t d" style="left:501.80px;top:745.25px;width:57.70px;height:26.25px;line-height:26.25px;text-align:center;text-indent:0.85px">1-9-10</div>
<div class="t d" style="left:561.70px;top:745.25px;width:53.30px;height:26.25px;line-height:26.25px;text-align:right;">11.7</div>
<div class="t d" style="left:619.40px;top:745.25px;width:53.30px;height:26.25px;line-height:26.25px;text-align:right;">13.0</div>
<div class="t d" style="left:677.10px;top:745.25px;width:53.30px;height:26.25px;line-height:26.25px;text-align:right;">7.7%</div>
<div class="t d" style="left:501.80px;top:771.50px;width:57.70px;height:26.25px;line-height:26.25px;text-align:center;text-indent:0.85px">1-2-3</div>
<div class="t d" style="left:561.70px;top:771.50px;width:53.30px;height:26.25px;line-height:26.25px;text-align:right;">11.8</div>
<div class="t d" style="left:619.40px;top:771.50px;width:53.30px;height:26.25px;line-height:26.25px;text-align:right;">14.5</div>
<div class="t d" style="left:677.10px;top:771.50px;width:53.30px;height:26.25px;line-height:26.25px;text-align:right;">6.9%</div>
<div class="r" style="left:501.80px;top:797.75px;width:230.80px;height:26.25px;background:#DFE9FA"></div>
<div class="t d" style="left:501.80px;top:797.75px;width:57.70px;height:26.25px;line-height:26.25px;text-align:center;text-indent:0.85px">2-3-9</div>
<div class="t d" style="left:561.70px;top:797.75px;width:53.30px;height:26.25px;line-height:26.25px;text-align:right;">22.3</div>
<div class="t d" style="left:619.40px;top:797.75px;width:53.30px;height:26.25px;line-height:26.25px;text-align:right;">29.8</div>
<div class="t d" style="left:677.10px;top:797.75px;width:53.30px;height:26.25px;line-height:26.25px;text-align:right;">3.4%</div>
<div class="t d" style="left:501.80px;top:824.00px;width:57.70px;height:26.25px;line-height:26.25px;text-align:center;text-indent:0.85px">1-3-7</div>
<div class="t d" style="left:561.70px;top:824.00px;width:53.30px;height:26.25px;line-height:26.25px;text-align:right;">19.3</div>
<div class="t d" style="left:619.40px;top:824.00px;width:53.30px;height:26.25px;line-height:26.25px;text-align:right;">32.9</div>
<div class="t d" style="left:677.10px;top:824.00px;width:53.30px;height:26.25px;line-height:26.25px;text-align:right;">3.0%</div>
<div class="r" style="left:501.80px;top:850.25px;width:230.80px;height:26.25px;background:#DFE9FA"></div>
<div class="t d" style="left:501.80px;top:850.25px;width:57.70px;height:26.25px;line-height:26.25px;text-align:center;text-indent:0.85px">1-2-7</div>
<div class="t d" style="left:561.70px;top:850.25px;width:53.30px;height:26.25px;line-height:26.25px;text-align:right;">26.3</div>
<div class="t d" style="left:619.40px;top:850.25px;width:53.30px;height:26.25px;line-height:26.25px;text-align:right;">32.9</div>
<div class="t d" style="left:677.10px;top:850.25px;width:53.30px;height:26.25px;line-height:26.25px;text-align:right;">3.0%</div>
<div class="t d" style="left:501.80px;top:876.50px;width:57.70px;height:26.25px;line-height:26.25px;text-align:center;text-indent:0.85px">1-4-9</div>
<div class="t d" style="left:561.70px;top:876.50px;width:53.30px;height:26.25px;line-height:26.25px;text-align:right;">13.2</div>
<div class="t d" style="left:619.40px;top:876.50px;width:53.30px;height:26.25px;line-height:26.25px;text-align:right;">34.7</div>
<div class="t d" style="left:677.10px;top:876.50px;width:53.30px;height:26.25px;line-height:26.25px;text-align:right;">2.9%</div>
<div class="r" style="left:501.80px;top:902.75px;width:230.80px;height:26.25px;background:#DFE9FA"></div>
<div class="t d" style="left:501.80px;top:902.75px;width:57.70px;height:26.25px;line-height:26.25px;text-align:center;text-indent:0.85px">1-3-10</div>
<div class="t d" style="left:561.70px;top:902.75px;width:53.30px;height:26.25px;line-height:26.25px;text-align:right;">18.0</div>
<div class="t d" style="left:619.40px;top:902.75px;width:53.30px;height:26.25px;line-height:26.25px;text-align:right;">44.6</div>
<div class="t d" style="left:677.10px;top:902.75px;width:53.30px;height:26.25px;line-height:26.25px;text-align:right;">2.2%</div>
<div class="t d" style="left:501.80px;top:929.00px;width:57.70px;height:26.25px;line-height:26.25px;text-align:center;text-indent:0.85px">1-2-10</div>
<div class="t d" style="left:561.70px;top:929.00px;width:53.30px;height:26.25px;line-height:26.25px;text-align:right;">46.5</div>
<div class="t d" style="left:619.40px;top:929.00px;width:53.30px;height:26.25px;line-height:26.25px;text-align:right;">48.1</div>
<div class="t d" style="left:677.10px;top:929.00px;width:53.30px;height:26.25px;line-height:26.25px;text-align:right;">2.1%</div>
<div class="r" style="left:501.80px;top:955.25px;width:230.80px;height:26.25px;background:#DFE9FA"></div>
<div class="t d" style="left:501.80px;top:955.25px;width:57.70px;height:26.25px;line-height:26.25px;text-align:center;text-indent:0.85px">3-7-9</div>
<div class="t d" style="left:561.70px;top:955.25px;width:53.30px;height:26.25px;line-height:26.25px;text-align:right;">30.1</div>
<div class="t d" style="left:619.40px;top:955.25px;width:53.30px;height:26.25px;line-height:26.25px;text-align:right;">48.1</div>
<div class="t d" style="left:677.10px;top:955.25px;width:53.30px;height:26.25px;line-height:26.25px;text-align:right;">2.1%</div>
<div class="r" style="left:501.30px;top:643.50px;width:231.80px;height:1px;background:#555555"></div>
<div class="r" style="left:501.30px;top:666.00px;width:231.80px;height:1px;background:#555555"></div>
<div class="r" style="left:501.30px;top:692.25px;width:231.80px;height:1px;background:#555555"></div>
<div class="r" style="left:501.30px;top:718.50px;width:231.80px;height:1px;background:#555555"></div>
<div class="r" style="left:501.30px;top:744.75px;width:231.80px;height:1px;background:#555555"></div>
<div class="r" style="left:501.30px;top:771.00px;width:231.80px;height:1px;background:#555555"></div>
<div class="r" style="left:501.30px;top:797.25px;width:231.80px;height:1px;background:#555555"></div>
<div class="r" style="left:501.30px;top:823.50px;width:231.80px;height:1px;background:#555555"></div>
<div class="r" style="left:501.30px;top:849.75px;width:231.80px;height:1px;background:#555555"></div>
<div class="r" style="left:501.30px;top:876.00px;width:231.80px;height:1px;background:#555555"></div>
<div class="r" style="left:501.30px;top:902.25px;width:231.80px;height:1px;background:#555555"></div>
<div class="r" style="left:501.30px;top:928.50px;width:231.80px;height:1px;background:#555555"></div>
<div class="r" style="left:501.30px;top:954.75px;width:231.80px;height:1px;background:#555555"></div>
<div class="r" style="left:501.30px;top:981.00px;width:231.80px;height:1px;background:#555555"></div>
<div class="r" style="left:501.30px;top:643.50px;width:1px;height:338.50px;background:#555555"></div>
<div class="r" style="left:559.00px;top:643.50px;width:1px;height:338.50px;background:#555555"></div>
<div class="r" style="left:616.70px;top:643.50px;width:1px;height:338.50px;background:#555555"></div>
<div class="r" style="left:674.40px;top:643.50px;width:1px;height:338.50px;background:#555555"></div>
<div class="r" style="left:732.10px;top:643.50px;width:1px;height:338.50px;background:#555555"></div>
<div class="r" style="left:501.30px;top:611.50px;width:231.80px;height:1px;background:#555555"></div>
<div class="r" style="left:501.30px;top:612.00px;width:1px;height:32.00px;background:#555555"></div>
<div class="r" style="left:732.10px;top:612.00px;width:1px;height:32.00px;background:#555555"></div>
<div class="r" style="left:8.00px;top:1023.00px;width:725.50px;height:26.70px;background:#203864"></div>
<div class="t ban" style="left:8.70px;top:1020.50px;height:26.70px;line-height:26.70px;">競馬</div>
<div class="t ban" style="left:52.70px;top:1020.50px;height:26.70px;line-height:26.70px;letter-spacing:-2.3px">クラスタ</div>
<div class="t ban" style="left:161.20px;top:1020.50px;height:26.70px;line-height:26.70px;font-size:23px;letter-spacing:1px">AI</div>
<div class="t ban" style="left:212.00px;top:1020.50px;height:26.70px;line-height:26.70px;font-size:21px;letter-spacing:0.65px">和の買い目分析</div>
<div class="r" style="left:140.60px;top:1033.50px;width:20.80px;height:2.10px;background:#fff"></div>
<div class="t sec" style="left:7.50px;top:1048.50px;width:292.50px;height:27.00px;line-height:27.00px;text-align:left;">レース数：<span class="sn">625</span></div>
<div class="r dot" style="left:13.00px;top:1090.30px"></div>
<div class="t sec" style="left:8.50px;top:1077.50px;width:235.00px;height:33.00px;line-height:33.00px;text-align:left;left:26.00px">和の買い目（馬連）</div>
<div class="r" style="left:8.50px;top:1112.00px;width:235.00px;height:55.00px;background:#203864"></div>
<div class="t hb" style="left:8.50px;top:1113.50px;width:118.20px;height:27.50px;line-height:27.50px;text-align:center;"><span class="hn">C</span>人気</div>
<div class="t hb" style="left:8.50px;top:1137.00px;width:118.20px;height:27.50px;line-height:27.50px;text-align:center;">合計値</div>
<div class="t hb" style="left:126.70px;top:1112.00px;width:116.80px;height:55.00px;line-height:55.00px;text-align:center;">出現率</div>
<div class="t d" style="left:8.50px;top:1167.00px;width:118.20px;height:26.29px;line-height:26.29px;text-align:center;text-indent:0.85px">3</div>
<div class="t d" style="left:128.90px;top:1167.00px;width:112.40px;height:26.29px;line-height:26.29px;text-align:right;">37.8%</div>
<div class="r" style="left:8.50px;top:1193.29px;width:235.00px;height:26.29px;background:#DFE9FA"></div>
<div class="t d" style="left:8.50px;top:1193.29px;width:118.20px;height:26.29px;line-height:26.29px;text-align:center;text-indent:0.85px">4</div>
<div class="t d" style="left:128.90px;top:1193.29px;width:112.40px;height:26.29px;line-height:26.29px;text-align:right;">13.8%</div>
<div class="t d" style="left:8.50px;top:1219.58px;width:118.20px;height:26.29px;line-height:26.29px;text-align:center;text-indent:0.85px">5</div>
<div class="t d" style="left:128.90px;top:1219.58px;width:112.40px;height:26.29px;line-height:26.29px;text-align:right;">14.6%</div>
<div class="r" style="left:8.50px;top:1245.88px;width:235.00px;height:26.29px;background:#DFE9FA"></div>
<div class="t d" style="left:8.50px;top:1245.88px;width:118.20px;height:26.29px;line-height:26.29px;text-align:center;text-indent:0.85px">6</div>
<div class="t d" style="left:128.90px;top:1245.88px;width:112.40px;height:26.29px;line-height:26.29px;text-align:right;">11.2%</div>
<div class="t d" style="left:8.50px;top:1272.17px;width:118.20px;height:26.29px;line-height:26.29px;text-align:center;text-indent:0.85px">7</div>
<div class="t d" style="left:128.90px;top:1272.17px;width:112.40px;height:26.29px;line-height:26.29px;text-align:right;">7.8%</div>
<div class="r" style="left:8.50px;top:1298.46px;width:235.00px;height:26.29px;background:#DFE9FA"></div>
<div class="t d" style="left:8.50px;top:1298.46px;width:118.20px;height:26.29px;line-height:26.29px;text-align:center;text-indent:0.85px">8</div>
<div class="t d" style="left:128.90px;top:1298.46px;width:112.40px;height:26.29px;line-height:26.29px;text-align:right;">5.9%</div>
<div class="t d" style="left:8.50px;top:1324.75px;width:118.20px;height:26.29px;line-height:26.29px;text-align:center;text-indent:0.85px">9</div>
<div class="t d" style="left:128.90px;top:1324.75px;width:112.40px;height:26.29px;line-height:26.29px;text-align:right;">3.8%</div>
<div class="r" style="left:8.50px;top:1351.05px;width:235.00px;height:26.29px;background:#DFE9FA"></div>
<div class="t d" style="left:8.50px;top:1351.05px;width:118.20px;height:26.29px;line-height:26.29px;text-align:center;text-indent:0.85px">10</div>
<div class="t d" style="left:128.90px;top:1351.05px;width:112.40px;height:26.29px;line-height:26.29px;text-align:right;">2.2%</div>
<div class="t d" style="left:8.50px;top:1377.34px;width:118.20px;height:26.29px;line-height:26.29px;text-align:center;text-indent:0.85px">11</div>
<div class="t d" style="left:128.90px;top:1377.34px;width:112.40px;height:26.29px;line-height:26.29px;text-align:right;">1.6%</div>
<div class="r" style="left:8.50px;top:1403.63px;width:235.00px;height:26.29px;background:#DFE9FA"></div>
<div class="t d" style="left:8.50px;top:1403.63px;width:118.20px;height:26.29px;line-height:26.29px;text-align:center;text-indent:0.85px">12</div>
<div class="t d" style="left:128.90px;top:1403.63px;width:112.40px;height:26.29px;line-height:26.29px;text-align:right;">0.5%</div>
<div class="t d" style="left:8.50px;top:1429.92px;width:118.20px;height:26.29px;line-height:26.29px;text-align:center;text-indent:0.85px">13</div>
<div class="t d" style="left:128.90px;top:1429.92px;width:112.40px;height:26.29px;line-height:26.29px;text-align:right;">0.5%</div>
<div class="r" style="left:8.50px;top:1456.22px;width:235.00px;height:26.29px;background:#DFE9FA"></div>
<div class="t d" style="left:8.50px;top:1456.22px;width:118.20px;height:26.29px;line-height:26.29px;text-align:center;text-indent:0.85px">14</div>
<div class="t d" style="left:128.90px;top:1456.22px;width:112.40px;height:26.29px;line-height:26.29px;text-align:right;">0.2%</div>
<div class="t d" style="left:8.50px;top:1482.51px;width:118.20px;height:26.29px;line-height:26.29px;text-align:center;text-indent:0.85px">15<span class="dj2">以上</span></div>
<div class="t d" style="left:128.90px;top:1482.51px;width:112.40px;height:26.29px;line-height:26.29px;text-align:right;">0.2%</div>
<div class="r" style="left:8.00px;top:1111.50px;width:236.00px;height:1px;background:#555555"></div>
<div class="r" style="left:8.00px;top:1166.50px;width:236.00px;height:1px;background:#555555"></div>
<div class="r" style="left:8.00px;top:1192.79px;width:236.00px;height:1px;background:#555555"></div>
<div class="r" style="left:8.00px;top:1219.08px;width:236.00px;height:1px;background:#555555"></div>
<div class="r" style="left:8.00px;top:1245.38px;width:236.00px;height:1px;background:#555555"></div>
<div class="r" style="left:8.00px;top:1271.67px;width:236.00px;height:1px;background:#555555"></div>
<div class="r" style="left:8.00px;top:1297.96px;width:236.00px;height:1px;background:#555555"></div>
<div class="r" style="left:8.00px;top:1324.25px;width:236.00px;height:1px;background:#555555"></div>
<div class="r" style="left:8.00px;top:1350.55px;width:236.00px;height:1px;background:#555555"></div>
<div class="r" style="left:8.00px;top:1376.84px;width:236.00px;height:1px;background:#555555"></div>
<div class="r" style="left:8.00px;top:1403.13px;width:236.00px;height:1px;background:#555555"></div>
<div class="r" style="left:8.00px;top:1429.42px;width:236.00px;height:1px;background:#555555"></div>
<div class="r" style="left:8.00px;top:1455.72px;width:236.00px;height:1px;background:#555555"></div>
<div class="r" style="left:8.00px;top:1482.01px;width:236.00px;height:1px;background:#555555"></div>
<div class="r" style="left:8.00px;top:1508.30px;width:236.00px;height:1px;background:#555555"></div>
<div class="r" style="left:8.00px;top:1111.50px;width:1px;height:397.80px;background:#555555"></div>
<div class="r" style="left:126.20px;top:1111.50px;width:1px;height:397.80px;background:#555555"></div>
<div class="r" style="left:243.00px;top:1111.50px;width:1px;height:397.80px;background:#555555"></div>
<div class="r" style="left:8.00px;top:1078.50px;width:236.00px;height:1px;background:#555555"></div>
<div class="r" style="left:8.00px;top:1079.00px;width:1px;height:33.00px;background:#555555"></div>
<div class="r" style="left:243.00px;top:1079.00px;width:1px;height:33.00px;background:#555555"></div>
<div class="r dot" style="left:257.50px;top:1090.30px"></div>
<div class="t sec" style="left:253.00px;top:1077.50px;width:235.80px;height:33.00px;line-height:33.00px;text-align:left;left:270.50px">和の買い目（ワイド）</div>
<div class="r" style="left:253.00px;top:1112.00px;width:235.80px;height:55.00px;background:#203864"></div>
<div class="t hb" style="left:253.00px;top:1113.50px;width:118.30px;height:27.50px;line-height:27.50px;text-align:center;"><span class="hn">C</span>人気</div>
<div class="t hb" style="left:253.00px;top:1137.00px;width:118.30px;height:27.50px;line-height:27.50px;text-align:center;">合計値</div>
<div class="t hb" style="left:371.30px;top:1112.00px;width:117.50px;height:55.00px;line-height:55.00px;text-align:center;">出現率</div>
<div class="t d" style="left:253.00px;top:1167.00px;width:118.30px;height:26.29px;line-height:26.29px;text-align:center;text-indent:0.85px">3</div>
<div class="t d" style="left:373.50px;top:1167.00px;width:113.10px;height:26.29px;line-height:26.29px;text-align:right;">59.4%</div>
<div class="r" style="left:253.00px;top:1193.29px;width:235.80px;height:26.29px;background:#DFE9FA"></div>
<div class="t d" style="left:253.00px;top:1193.29px;width:118.30px;height:26.29px;line-height:26.29px;text-align:center;text-indent:0.85px">4</div>
<div class="t d" style="left:373.50px;top:1193.29px;width:113.10px;height:26.29px;line-height:26.29px;text-align:right;">34.9%</div>
<div class="t d" style="left:253.00px;top:1219.58px;width:118.30px;height:26.29px;line-height:26.29px;text-align:center;text-indent:0.85px">5</div>
<div class="t d" style="left:373.50px;top:1219.58px;width:113.10px;height:26.29px;line-height:26.29px;text-align:right;">57.1%</div>
<div class="r" style="left:253.00px;top:1245.88px;width:235.80px;height:26.29px;background:#DFE9FA"></div>
<div class="t d" style="left:253.00px;top:1245.88px;width:118.30px;height:26.29px;line-height:26.29px;text-align:center;text-indent:0.85px">6</div>
<div class="t d" style="left:373.50px;top:1245.88px;width:113.10px;height:26.29px;line-height:26.29px;text-align:right;">38.9%</div>
<div class="t d" style="left:253.00px;top:1272.17px;width:118.30px;height:26.29px;line-height:26.29px;text-align:center;text-indent:0.85px">7</div>
<div class="t d" style="left:373.50px;top:1272.17px;width:113.10px;height:26.29px;line-height:26.29px;text-align:right;">41.0%</div>
<div class="r" style="left:253.00px;top:1298.46px;width:235.80px;height:26.29px;background:#DFE9FA"></div>
<div class="t d" style="left:253.00px;top:1298.46px;width:118.30px;height:26.29px;line-height:26.29px;text-align:center;text-indent:0.85px">8</div>
<div class="t d" style="left:373.50px;top:1298.46px;width:113.10px;height:26.29px;line-height:26.29px;text-align:right;">23.0%</div>
<div class="t d" style="left:253.00px;top:1324.75px;width:118.30px;height:26.29px;line-height:26.29px;text-align:center;text-indent:0.85px">9</div>
<div class="t d" style="left:373.50px;top:1324.75px;width:113.10px;height:26.29px;line-height:26.29px;text-align:right;">17.9%</div>
<div class="r" style="left:253.00px;top:1351.05px;width:235.80px;height:26.29px;background:#DFE9FA"></div>
<div class="t d" style="left:253.00px;top:1351.05px;width:118.30px;height:26.29px;line-height:26.29px;text-align:center;text-indent:0.85px">10</div>
<div class="t d" style="left:373.50px;top:1351.05px;width:113.10px;height:26.29px;line-height:26.29px;text-align:right;">10.6%</div>
<div class="t d" style="left:253.00px;top:1377.34px;width:118.30px;height:26.29px;line-height:26.29px;text-align:center;text-indent:0.85px">11</div>
<div class="t d" style="left:373.50px;top:1377.34px;width:113.10px;height:26.29px;line-height:26.29px;text-align:right;">8.2%</div>
<div class="r" style="left:253.00px;top:1403.63px;width:235.80px;height:26.29px;background:#DFE9FA"></div>
<div class="t d" style="left:253.00px;top:1403.63px;width:118.30px;height:26.29px;line-height:26.29px;text-align:center;text-indent:0.85px">12</div>
<div class="t d" style="left:373.50px;top:1403.63px;width:113.10px;height:26.29px;line-height:26.29px;text-align:right;">4.2%</div>
<div class="t d" style="left:253.00px;top:1429.92px;width:118.30px;height:26.29px;line-height:26.29px;text-align:center;text-indent:0.85px">13</div>
<div class="t d" style="left:373.50px;top:1429.92px;width:113.10px;height:26.29px;line-height:26.29px;text-align:right;">3.0%</div>
<div class="r" style="left:253.00px;top:1456.22px;width:235.80px;height:26.29px;background:#DFE9FA"></div>
<div class="t d" style="left:253.00px;top:1456.22px;width:118.30px;height:26.29px;line-height:26.29px;text-align:center;text-indent:0.85px">14</div>
<div class="t d" style="left:373.50px;top:1456.22px;width:113.10px;height:26.29px;line-height:26.29px;text-align:right;">1.0%</div>
<div class="t d" style="left:253.00px;top:1482.51px;width:118.30px;height:26.29px;line-height:26.29px;text-align:center;text-indent:0.85px">15<span class="dj2">以上</span></div>
<div class="t d" style="left:373.50px;top:1482.51px;width:113.10px;height:26.29px;line-height:26.29px;text-align:right;">0.8%</div>
<div class="r" style="left:252.50px;top:1111.50px;width:236.80px;height:1px;background:#555555"></div>
<div class="r" style="left:252.50px;top:1166.50px;width:236.80px;height:1px;background:#555555"></div>
<div class="r" style="left:252.50px;top:1192.79px;width:236.80px;height:1px;background:#555555"></div>
<div class="r" style="left:252.50px;top:1219.08px;width:236.80px;height:1px;background:#555555"></div>
<div class="r" style="left:252.50px;top:1245.38px;width:236.80px;height:1px;background:#555555"></div>
<div class="r" style="left:252.50px;top:1271.67px;width:236.80px;height:1px;background:#555555"></div>
<div class="r" style="left:252.50px;top:1297.96px;width:236.80px;height:1px;background:#555555"></div>
<div class="r" style="left:252.50px;top:1324.25px;width:236.80px;height:1px;background:#555555"></div>
<div class="r" style="left:252.50px;top:1350.55px;width:236.80px;height:1px;background:#555555"></div>
<div class="r" style="left:252.50px;top:1376.84px;width:236.80px;height:1px;background:#555555"></div>
<div class="r" style="left:252.50px;top:1403.13px;width:236.80px;height:1px;background:#555555"></div>
<div class="r" style="left:252.50px;top:1429.42px;width:236.80px;height:1px;background:#555555"></div>
<div class="r" style="left:252.50px;top:1455.72px;width:236.80px;height:1px;background:#555555"></div>
<div class="r" style="left:252.50px;top:1482.01px;width:236.80px;height:1px;background:#555555"></div>
<div class="r" style="left:252.50px;top:1508.30px;width:236.80px;height:1px;background:#555555"></div>
<div class="r" style="left:252.50px;top:1111.50px;width:1px;height:397.80px;background:#555555"></div>
<div class="r" style="left:370.80px;top:1111.50px;width:1px;height:397.80px;background:#555555"></div>
<div class="r" style="left:488.30px;top:1111.50px;width:1px;height:397.80px;background:#555555"></div>
<div class="r" style="left:252.50px;top:1078.50px;width:236.80px;height:1px;background:#555555"></div>
<div class="r" style="left:252.50px;top:1079.00px;width:1px;height:33.00px;background:#555555"></div>
<div class="r" style="left:488.30px;top:1079.00px;width:1px;height:33.00px;background:#555555"></div>
<div class="r dot" style="left:502.50px;top:1090.30px"></div>
<div class="t sec" style="left:498.00px;top:1077.50px;width:234.80px;height:33.00px;line-height:33.00px;text-align:left;left:515.50px">和の買い目（<span class="sn">3</span>連複）</div>
<div class="r" style="left:498.00px;top:1112.00px;width:234.80px;height:55.00px;background:#203864"></div>
<div class="t hb" style="left:498.00px;top:1113.50px;width:118.50px;height:27.50px;line-height:27.50px;text-align:center;"><span class="hn">C</span>人気</div>
<div class="t hb" style="left:498.00px;top:1137.00px;width:118.50px;height:27.50px;line-height:27.50px;text-align:center;">合計値</div>
<div class="t hb" style="left:616.50px;top:1112.00px;width:116.30px;height:55.00px;line-height:55.00px;text-align:center;">出現率</div>
<div class="t d" style="left:498.00px;top:1167.00px;width:118.50px;height:26.29px;line-height:26.29px;text-align:center;text-indent:0.85px">6</div>
<div class="t d" style="left:618.70px;top:1167.00px;width:111.90px;height:26.29px;line-height:26.29px;text-align:right;">20.5%</div>
<div class="r" style="left:498.00px;top:1193.29px;width:234.80px;height:26.29px;background:#DFE9FA"></div>
<div class="t d" style="left:498.00px;top:1193.29px;width:118.50px;height:26.29px;line-height:26.29px;text-align:center;text-indent:0.85px">7</div>
<div class="t d" style="left:618.70px;top:1193.29px;width:111.90px;height:26.29px;line-height:26.29px;text-align:right;">15.2%</div>
<div class="t d" style="left:498.00px;top:1219.58px;width:118.50px;height:26.29px;line-height:26.29px;text-align:center;text-indent:0.85px">8</div>
<div class="t d" style="left:618.70px;top:1219.58px;width:111.90px;height:26.29px;line-height:26.29px;text-align:right;">16.6%</div>
<div class="r" style="left:498.00px;top:1245.88px;width:234.80px;height:26.29px;background:#DFE9FA"></div>
<div class="t d" style="left:498.00px;top:1245.88px;width:118.50px;height:26.29px;line-height:26.29px;text-align:center;text-indent:0.85px">9</div>
<div class="t d" style="left:618.70px;top:1245.88px;width:111.90px;height:26.29px;line-height:26.29px;text-align:right;">14.1%</div>
<div class="t d" style="left:498.00px;top:1272.17px;width:118.50px;height:26.29px;line-height:26.29px;text-align:center;text-indent:0.85px">10</div>
<div class="t d" style="left:618.70px;top:1272.17px;width:111.90px;height:26.29px;line-height:26.29px;text-align:right;">10.2%</div>
<div class="r" style="left:498.00px;top:1298.46px;width:234.80px;height:26.29px;background:#DFE9FA"></div>
<div class="t d" style="left:498.00px;top:1298.46px;width:118.50px;height:26.29px;line-height:26.29px;text-align:center;text-indent:0.85px">11</div>
<div class="t d" style="left:618.70px;top:1298.46px;width:111.90px;height:26.29px;line-height:26.29px;text-align:right;">6.6%</div>
<div class="t d" style="left:498.00px;top:1324.75px;width:118.50px;height:26.29px;line-height:26.29px;text-align:center;text-indent:0.85px">12</div>
<div class="t d" style="left:618.70px;top:1324.75px;width:111.90px;height:26.29px;line-height:26.29px;text-align:right;">6.2%</div>
<div class="r" style="left:498.00px;top:1351.05px;width:234.80px;height:26.29px;background:#DFE9FA"></div>
<div class="t d" style="left:498.00px;top:1351.05px;width:118.50px;height:26.29px;line-height:26.29px;text-align:center;text-indent:0.85px">13</div>
<div class="t d" style="left:618.70px;top:1351.05px;width:111.90px;height:26.29px;line-height:26.29px;text-align:right;">3.7%</div>
<div class="t d" style="left:498.00px;top:1377.34px;width:118.50px;height:26.29px;line-height:26.29px;text-align:center;text-indent:0.85px">14</div>
<div class="t d" style="left:618.70px;top:1377.34px;width:111.90px;height:26.29px;line-height:26.29px;text-align:right;">3.8%</div>
<div class="r" style="left:498.00px;top:1403.63px;width:234.80px;height:26.29px;background:#DFE9FA"></div>
<div class="t d" style="left:498.00px;top:1403.63px;width:118.50px;height:26.29px;line-height:26.29px;text-align:center;text-indent:0.85px">15</div>
<div class="t d" style="left:618.70px;top:1403.63px;width:111.90px;height:26.29px;line-height:26.29px;text-align:right;">1.4%</div>
<div class="t d" style="left:498.00px;top:1429.92px;width:118.50px;height:26.29px;line-height:26.29px;text-align:center;text-indent:0.85px">16</div>
<div class="t d" style="left:618.70px;top:1429.92px;width:111.90px;height:26.29px;line-height:26.29px;text-align:right;">0.5%</div>
<div class="r" style="left:498.00px;top:1456.22px;width:234.80px;height:26.29px;background:#DFE9FA"></div>
<div class="t d" style="left:498.00px;top:1456.22px;width:118.50px;height:26.29px;line-height:26.29px;text-align:center;text-indent:0.85px">17</div>
<div class="t d" style="left:618.70px;top:1456.22px;width:111.90px;height:26.29px;line-height:26.29px;text-align:right;">0.5%</div>
<div class="t d" style="left:498.00px;top:1482.51px;width:118.50px;height:26.29px;line-height:26.29px;text-align:center;text-indent:0.85px">18<span class="dj2">以上</span></div>
<div class="t d" style="left:618.70px;top:1482.51px;width:111.90px;height:26.29px;line-height:26.29px;text-align:right;">0.6%</div>
<div class="r" style="left:497.50px;top:1111.50px;width:235.80px;height:1px;background:#555555"></div>
<div class="r" style="left:497.50px;top:1166.50px;width:235.80px;height:1px;background:#555555"></div>
<div class="r" style="left:497.50px;top:1192.79px;width:235.80px;height:1px;background:#555555"></div>
<div class="r" style="left:497.50px;top:1219.08px;width:235.80px;height:1px;background:#555555"></div>
<div class="r" style="left:497.50px;top:1245.38px;width:235.80px;height:1px;background:#555555"></div>
<div class="r" style="left:497.50px;top:1271.67px;width:235.80px;height:1px;background:#555555"></div>
<div class="r" style="left:497.50px;top:1297.96px;width:235.80px;height:1px;background:#555555"></div>
<div class="r" style="left:497.50px;top:1324.25px;width:235.80px;height:1px;background:#555555"></div>
<div class="r" style="left:497.50px;top:1350.55px;width:235.80px;height:1px;background:#555555"></div>
<div class="r" style="left:497.50px;top:1376.84px;width:235.80px;height:1px;background:#555555"></div>
<div class="r" style="left:497.50px;top:1403.13px;width:235.80px;height:1px;background:#555555"></div>
<div class="r" style="left:497.50px;top:1429.42px;width:235.80px;height:1px;background:#555555"></div>
<div class="r" style="left:497.50px;top:1455.72px;width:235.80px;height:1px;background:#555555"></div>
<div class="r" style="left:497.50px;top:1482.01px;width:235.80px;height:1px;background:#555555"></div>
<div class="r" style="left:497.50px;top:1508.30px;width:235.80px;height:1px;background:#555555"></div>
<div class="r" style="left:497.50px;top:1111.50px;width:1px;height:397.80px;background:#555555"></div>
<div class="r" style="left:616.00px;top:1111.50px;width:1px;height:397.80px;background:#555555"></div>
<div class="r" style="left:732.30px;top:1111.50px;width:1px;height:397.80px;background:#555555"></div>
<div class="r" style="left:497.50px;top:1078.50px;width:235.80px;height:1px;background:#555555"></div>
<div class="r" style="left:497.50px;top:1079.00px;width:1px;height:33.00px;background:#555555"></div>
<div class="r" style="left:732.30px;top:1079.00px;width:1px;height:33.00px;background:#555555"></div>
<div class="r" style="left:8.00px;top:1546.00px;width:725.50px;height:26.50px;background:#203864"></div>
<div class="t ban" style="left:8.80px;top:1543.50px;height:26.50px;line-height:26.50px;">大井ダ</div>
<div class="t ban" style="left:73.60px;top:1543.50px;height:26.50px;line-height:26.50px;font-size:22.5px;letter-spacing:0.4px;transform:scaleX(1.16);transform-origin:0 0">1600m</div>
<div class="t ban" style="left:162.00px;top:1543.50px;height:26.50px;line-height:26.50px;font-size:21px;letter-spacing:0.55px">過去レース分析</div>
<div class="r dot" style="left:13.00px;top:1593.55px"></div>
<div class="t sec" style="left:8.50px;top:1581.00px;width:725.00px;height:32.50px;line-height:32.50px;text-align:left;left:26.00px">枠順別成績　過去<span class="sn">10</span>年間　頭数：<span class="sn">10</span>頭</div>
<div class="r" style="left:8.50px;top:1615.00px;width:725.00px;height:32.50px;background:#203864"></div>
<div class="t hb" style="left:8.50px;top:1615.00px;width:135.10px;height:32.50px;line-height:32.50px;text-align:center;">枠順</div>
<div class="t hb" style="left:143.60px;top:1615.00px;width:227.20px;height:32.50px;line-height:32.50px;text-align:center;">着別度数</div>
<div class="t hb" style="left:370.80px;top:1615.00px;width:90.30px;height:32.50px;line-height:32.50px;text-align:center;">勝率</div>
<div class="t hb" style="left:461.10px;top:1615.00px;width:90.20px;height:32.50px;line-height:32.50px;text-align:center;">連対率</div>
<div class="t hb" style="left:551.30px;top:1615.00px;width:91.10px;height:32.50px;line-height:32.50px;text-align:center;">複勝率</div>
<div class="t hb" style="left:642.40px;top:1615.00px;width:91.10px;height:32.50px;line-height:32.50px;text-align:center;">評価</div>
<div class="r" style="left:8.50px;top:1647.50px;width:135.10px;height:26.35px;background:#F0F0F0"></div>
<div class="t wk" style="left:9.50px;top:1647.50px;width:133.10px;height:26.35px;line-height:26.35px;text-align:left;color:#222;">1<span class="wj">枠</span></div>
<div class="t d" style="left:145.60px;top:1647.50px;width:223.20px;height:26.35px;line-height:26.35px;text-align:left;">30-27-24-184</div>
<div class="t d" style="left:373.00px;top:1647.50px;width:85.90px;height:26.35px;line-height:26.35px;text-align:right;">11.3%</div>
<div class="t d" style="left:463.30px;top:1647.50px;width:85.80px;height:26.35px;line-height:26.35px;text-align:right;">21.5%</div>
<div class="t d" style="left:553.50px;top:1647.50px;width:86.70px;height:26.35px;line-height:26.35px;text-align:right;">30.6%</div>
<div class="t d" style="left:642.40px;top:1647.50px;width:91.10px;height:26.35px;line-height:26.35px;text-align:center;text-indent:0.85px;">D</div>
<div class="r" style="left:8.50px;top:1673.85px;width:725.00px;height:26.35px;background:#DFE9FA"></div>
<div class="r" style="left:8.50px;top:1673.85px;width:135.10px;height:26.35px;background:#000000"></div>
<div class="t wk" style="left:9.50px;top:1673.85px;width:133.10px;height:26.35px;line-height:26.35px;text-align:left;color:#fff;">2<span class="wj">枠</span></div>
<div class="t d" style="left:145.60px;top:1673.85px;width:223.20px;height:26.35px;line-height:26.35px;text-align:left;">35-22-33-179</div>
<div class="t d" style="left:373.00px;top:1673.85px;width:85.90px;height:26.35px;line-height:26.35px;text-align:right;">13.0%</div>
<div class="t d" style="left:463.30px;top:1673.85px;width:85.80px;height:26.35px;line-height:26.35px;text-align:right;">21.2%</div>
<div class="t d" style="left:553.50px;top:1673.85px;width:86.70px;height:26.35px;line-height:26.35px;text-align:right;">33.5%</div>
<div class="t d" style="left:642.40px;top:1673.85px;width:91.10px;height:26.35px;line-height:26.35px;text-align:center;text-indent:0.85px;">D</div>
<div class="r" style="left:8.50px;top:1700.20px;width:135.10px;height:26.35px;background:#E94433"></div>
<div class="t wk" style="left:9.50px;top:1700.20px;width:133.10px;height:26.35px;line-height:26.35px;text-align:left;color:#fff;">3<span class="wj">枠</span></div>
<div class="t d" style="left:145.60px;top:1700.20px;width:223.20px;height:26.35px;line-height:26.35px;text-align:left;">26-19-21-201</div>
<div class="t d" style="left:373.00px;top:1700.20px;width:85.90px;height:26.35px;line-height:26.35px;text-align:right;">9.7%</div>
<div class="t d" style="left:463.30px;top:1700.20px;width:85.80px;height:26.35px;line-height:26.35px;text-align:right;">16.9%</div>
<div class="t d" style="left:553.50px;top:1700.20px;width:86.70px;height:26.35px;line-height:26.35px;text-align:right;">24.7%</div>
<div class="t d" style="left:642.40px;top:1700.20px;width:91.10px;height:26.35px;line-height:26.35px;text-align:center;text-indent:0.85px;">D</div>
<div class="r" style="left:8.50px;top:1726.55px;width:725.00px;height:26.35px;background:#DFE9FA"></div>
<div class="r" style="left:8.50px;top:1726.55px;width:135.10px;height:26.35px;background:#4285F4"></div>
<div class="t wk" style="left:9.50px;top:1726.55px;width:133.10px;height:26.35px;line-height:26.35px;text-align:left;color:#fff;">4<span class="wj">枠</span></div>
<div class="t d" style="left:145.60px;top:1726.55px;width:223.20px;height:26.35px;line-height:26.35px;text-align:left;">29-24-35-176</div>
<div class="t d" style="left:373.00px;top:1726.55px;width:85.90px;height:26.35px;line-height:26.35px;text-align:right;">11.0%</div>
<div class="t d" style="left:463.30px;top:1726.55px;width:85.80px;height:26.35px;line-height:26.35px;text-align:right;">20.1%</div>
<div class="t d" style="left:553.50px;top:1726.55px;width:86.70px;height:26.35px;line-height:26.35px;text-align:right;">33.3%</div>
<div class="t d" style="left:642.40px;top:1726.55px;width:91.10px;height:26.35px;line-height:26.35px;text-align:center;text-indent:0.85px;">D</div>
<div class="r" style="left:8.50px;top:1752.90px;width:135.10px;height:26.35px;background:#F4CB00"></div>
<div class="t wk" style="left:9.50px;top:1752.90px;width:133.10px;height:26.35px;line-height:26.35px;text-align:left;color:#222;">5<span class="wj">枠</span></div>
<div class="t d" style="left:145.60px;top:1752.90px;width:223.20px;height:26.35px;line-height:26.35px;text-align:left;">24-34-22-185</div>
<div class="t d" style="left:373.00px;top:1752.90px;width:85.90px;height:26.35px;line-height:26.35px;text-align:right;">9.1%</div>
<div class="t d" style="left:463.30px;top:1752.90px;width:85.80px;height:26.35px;line-height:26.35px;text-align:right;">21.9%</div>
<div class="t d" style="left:553.50px;top:1752.90px;width:86.70px;height:26.35px;line-height:26.35px;text-align:right;">30.2%</div>
<div class="t d" style="left:642.40px;top:1752.90px;width:91.10px;height:26.35px;line-height:26.35px;text-align:center;text-indent:0.85px;">D</div>
<div class="r" style="left:8.50px;top:1779.25px;width:725.00px;height:26.35px;background:#DFE9FA"></div>
<div class="r" style="left:8.50px;top:1779.25px;width:135.10px;height:26.35px;background:#22A638"></div>
<div class="t wk" style="left:9.50px;top:1779.25px;width:133.10px;height:26.35px;line-height:26.35px;text-align:left;color:#fff;">6<span class="wj">枠</span></div>
<div class="t d" style="left:145.60px;top:1779.25px;width:223.20px;height:26.35px;line-height:26.35px;text-align:left;">18-25-27-194</div>
<div class="t d" style="left:373.00px;top:1779.25px;width:85.90px;height:26.35px;line-height:26.35px;text-align:right;">6.8%</div>
<div class="t d" style="left:463.30px;top:1779.25px;width:85.80px;height:26.35px;line-height:26.35px;text-align:right;">16.3%</div>
<div class="t d" style="left:553.50px;top:1779.25px;width:86.70px;height:26.35px;line-height:26.35px;text-align:right;">26.5%</div>
<div class="t d" style="left:642.40px;top:1779.25px;width:91.10px;height:26.35px;line-height:26.35px;text-align:center;text-indent:0.85px;">D</div>
<div class="r" style="left:8.50px;top:1805.60px;width:135.10px;height:26.35px;background:#E79A1E"></div>
<div class="t wk" style="left:9.50px;top:1805.60px;width:133.10px;height:26.35px;line-height:26.35px;text-align:left;color:#fff;">7<span class="wj">枠</span></div>
<div class="t d" style="left:145.60px;top:1805.60px;width:223.20px;height:26.35px;line-height:26.35px;text-align:left;">49-59-56-369</div>
<div class="t d" style="left:373.00px;top:1805.60px;width:85.90px;height:26.35px;line-height:26.35px;text-align:right;">9.2%</div>
<div class="t d" style="left:463.30px;top:1805.60px;width:85.80px;height:26.35px;line-height:26.35px;text-align:right;">20.3%</div>
<div class="t d" style="left:553.50px;top:1805.60px;width:86.70px;height:26.35px;line-height:26.35px;text-align:right;">30.8%</div>
<div class="t d" style="left:642.40px;top:1805.60px;width:91.10px;height:26.35px;line-height:26.35px;text-align:center;text-indent:0.85px;">D</div>
<div class="r" style="left:8.50px;top:1831.95px;width:725.00px;height:26.35px;background:#DFE9FA"></div>
<div class="r" style="left:8.50px;top:1831.95px;width:135.10px;height:26.35px;background:#E04E96"></div>
<div class="t wk" style="left:9.50px;top:1831.95px;width:133.10px;height:26.35px;line-height:26.35px;text-align:left;color:#fff;">8<span class="wj">枠</span></div>
<div class="t d" style="left:145.60px;top:1831.95px;width:223.20px;height:26.35px;line-height:26.35px;text-align:left;">58-58-52-361</div>
<div class="t d" style="left:373.00px;top:1831.95px;width:85.90px;height:26.35px;line-height:26.35px;text-align:right;">11.0%</div>
<div class="t d" style="left:463.30px;top:1831.95px;width:85.80px;height:26.35px;line-height:26.35px;text-align:right;">21.9%</div>
<div class="t d" style="left:553.50px;top:1831.95px;width:86.70px;height:26.35px;line-height:26.35px;text-align:right;">31.8%</div>
<div class="t d" style="left:642.40px;top:1831.95px;width:91.10px;height:26.35px;line-height:26.35px;text-align:center;text-indent:0.85px;">D</div>
<div class="r" style="left:8.00px;top:1614.50px;width:726.00px;height:1px;background:#555555"></div>
<div class="r" style="left:8.00px;top:1647.00px;width:726.00px;height:1px;background:#555555"></div>
<div class="r" style="left:8.00px;top:1673.35px;width:726.00px;height:1px;background:#555555"></div>
<div class="r" style="left:8.00px;top:1699.70px;width:726.00px;height:1px;background:#555555"></div>
<div class="r" style="left:8.00px;top:1726.05px;width:726.00px;height:1px;background:#555555"></div>
<div class="r" style="left:8.00px;top:1752.40px;width:726.00px;height:1px;background:#555555"></div>
<div class="r" style="left:8.00px;top:1778.75px;width:726.00px;height:1px;background:#555555"></div>
<div class="r" style="left:8.00px;top:1805.10px;width:726.00px;height:1px;background:#555555"></div>
<div class="r" style="left:8.00px;top:1831.45px;width:726.00px;height:1px;background:#555555"></div>
<div class="r" style="left:8.00px;top:1857.80px;width:726.00px;height:1px;background:#555555"></div>
<div class="r" style="left:8.00px;top:1614.50px;width:1px;height:244.30px;background:#555555"></div>
<div class="r" style="left:143.10px;top:1614.50px;width:1px;height:244.30px;background:#555555"></div>
<div class="r" style="left:370.30px;top:1614.50px;width:1px;height:244.30px;background:#555555"></div>
<div class="r" style="left:460.60px;top:1614.50px;width:1px;height:244.30px;background:#555555"></div>
<div class="r" style="left:550.80px;top:1614.50px;width:1px;height:244.30px;background:#555555"></div>
<div class="r" style="left:641.90px;top:1614.50px;width:1px;height:244.30px;background:#555555"></div>
<div class="r" style="left:733.00px;top:1614.50px;width:1px;height:244.30px;background:#555555"></div>
<div class="r" style="left:8.00px;top:1582.00px;width:726.00px;height:1px;background:#555555"></div>
<div class="r" style="left:8.00px;top:1582.50px;width:1px;height:32.50px;background:#555555"></div>
<div class="r" style="left:733.00px;top:1582.50px;width:1px;height:32.50px;background:#555555"></div>
<div class="r dot" style="left:13.00px;top:1888.55px"></div>
<div class="t sec" style="left:8.50px;top:1876.00px;width:725.00px;height:32.50px;line-height:32.50px;text-align:left;left:26.00px">騎手別成績　過去<span class="sn">5</span>年　頭数指定なし</div>
<div class="r" style="left:8.50px;top:1910.00px;width:725.00px;height:32.50px;background:#203864"></div>
<div class="t hb" style="left:8.50px;top:1910.00px;width:44.50px;height:32.50px;line-height:32.50px;text-align:center;font-size:13.5px">馬番</div>
<div class="t hb" style="left:53.00px;top:1910.00px;width:136.40px;height:32.50px;line-height:32.50px;text-align:center;">騎手</div>
<div class="t hb" style="left:189.40px;top:1910.00px;width:181.40px;height:32.50px;line-height:32.50px;text-align:center;">着別度数</div>
<div class="t hb" style="left:370.80px;top:1910.00px;width:90.30px;height:32.50px;line-height:32.50px;text-align:center;">勝率</div>
<div class="t hb" style="left:461.10px;top:1910.00px;width:90.20px;height:32.50px;line-height:32.50px;text-align:center;">連対率</div>
<div class="t hb" style="left:551.30px;top:1910.00px;width:91.10px;height:32.50px;line-height:32.50px;text-align:center;">複勝率</div>
<div class="t hb" style="left:642.40px;top:1910.00px;width:91.10px;height:32.50px;line-height:32.50px;text-align:center;">評価</div>
<div class="r" style="left:370.80px;top:1942.50px;width:90.30px;height:26.25px;background:#FCE4D6"></div>
<div class="r" style="left:8.50px;top:1942.50px;width:44.50px;height:26.25px;background:#F0F0F0"></div>
<div class="t d" style="left:8.50px;top:1942.50px;width:44.50px;height:26.25px;line-height:26.25px;text-align:center;color:#222;text-indent:0.85px;">1</div>
<div class="t dj" style="left:55.00px;top:1942.50px;width:132.40px;height:26.25px;line-height:26.25px;text-align:left;">安藤洋一</div>
<div class="t d" style="left:191.40px;top:1942.50px;width:177.40px;height:26.25px;line-height:26.25px;text-align:left;">82-54-67-554</div>
<div class="t d" style="left:373.00px;top:1942.50px;width:85.90px;height:26.25px;line-height:26.25px;text-align:right;">10.8%</div>
<div class="t d" style="left:463.30px;top:1942.50px;width:85.80px;height:26.25px;line-height:26.25px;text-align:right;">18.0%</div>
<div class="t d" style="left:553.50px;top:1942.50px;width:86.70px;height:26.25px;line-height:26.25px;text-align:right;">26.8%</div>
<div class="t d" style="left:642.40px;top:1942.50px;width:91.10px;height:26.25px;line-height:26.25px;text-align:center;text-indent:0.85px;">C</div>
<div class="r" style="left:8.50px;top:1968.75px;width:725.00px;height:26.25px;background:#DFE9FA"></div>
<div class="r" style="left:8.50px;top:1968.75px;width:44.50px;height:26.25px;background:#000000"></div>
<div class="t d" style="left:8.50px;top:1968.75px;width:44.50px;height:26.25px;line-height:26.25px;text-align:center;color:#fff;text-indent:0.85px;">2</div>
<div class="t dj" style="left:55.00px;top:1968.75px;width:132.40px;height:26.25px;line-height:26.25px;text-align:left;">松崎正泰</div>
<div class="t d" style="left:191.40px;top:1968.75px;width:177.40px;height:26.25px;line-height:26.25px;text-align:left;">1-1-4-121</div>
<div class="t d" style="left:373.00px;top:1968.75px;width:85.90px;height:26.25px;line-height:26.25px;text-align:right;">0.8%</div>
<div class="t d" style="left:463.30px;top:1968.75px;width:85.80px;height:26.25px;line-height:26.25px;text-align:right;">1.6%</div>
<div class="t d" style="left:553.50px;top:1968.75px;width:86.70px;height:26.25px;line-height:26.25px;text-align:right;">4.7%</div>
<div class="t d" style="left:642.40px;top:1968.75px;width:91.10px;height:26.25px;line-height:26.25px;text-align:center;text-indent:0.85px;">E</div>
<div class="r" style="left:8.50px;top:1995.00px;width:44.50px;height:26.25px;background:#E94433"></div>
<div class="t d" style="left:8.50px;top:1995.00px;width:44.50px;height:26.25px;line-height:26.25px;text-align:center;color:#fff;text-indent:0.85px;">3</div>
<div class="t dj" style="left:55.00px;top:1995.00px;width:132.40px;height:26.25px;line-height:26.25px;text-align:left;">田中洸多</div>
<div class="t d" style="left:191.40px;top:1995.00px;width:177.40px;height:26.25px;line-height:26.25px;text-align:left;">2-3-7-205</div>
<div class="t d" style="left:373.00px;top:1995.00px;width:85.90px;height:26.25px;line-height:26.25px;text-align:right;">0.9%</div>
<div class="t d" style="left:463.30px;top:1995.00px;width:85.80px;height:26.25px;line-height:26.25px;text-align:right;">2.3%</div>
<div class="t d" style="left:553.50px;top:1995.00px;width:86.70px;height:26.25px;line-height:26.25px;text-align:right;">5.5%</div>
<div class="t d" style="left:642.40px;top:1995.00px;width:91.10px;height:26.25px;line-height:26.25px;text-align:center;text-indent:0.85px;">E</div>
<div class="r" style="left:8.50px;top:2021.25px;width:725.00px;height:26.25px;background:#DFE9FA"></div>
<div class="r" style="left:370.80px;top:2021.25px;width:90.30px;height:26.25px;background:#FCE4D6"></div>
<div class="r" style="left:8.50px;top:2021.25px;width:44.50px;height:26.25px;background:#4285F4"></div>
<div class="t d" style="left:8.50px;top:2021.25px;width:44.50px;height:26.25px;line-height:26.25px;text-align:center;color:#fff;text-indent:0.85px;">4</div>
<div class="t dj" style="left:55.00px;top:2021.25px;width:132.40px;height:26.25px;line-height:26.25px;text-align:left;">藤田凌</div>
<div class="t d" style="left:191.40px;top:2021.25px;width:177.40px;height:26.25px;line-height:26.25px;text-align:left;">87-80-72-631</div>
<div class="t d" style="left:373.00px;top:2021.25px;width:85.90px;height:26.25px;line-height:26.25px;text-align:right;">10.0%</div>
<div class="t d" style="left:463.30px;top:2021.25px;width:85.80px;height:26.25px;line-height:26.25px;text-align:right;">19.2%</div>
<div class="t d" style="left:553.50px;top:2021.25px;width:86.70px;height:26.25px;line-height:26.25px;text-align:right;">27.5%</div>
<div class="t d" style="left:642.40px;top:2021.25px;width:91.10px;height:26.25px;line-height:26.25px;text-align:center;text-indent:0.85px;">C</div>
<div class="r" style="left:8.50px;top:2047.50px;width:44.50px;height:26.25px;background:#F4CB00"></div>
<div class="t d" style="left:8.50px;top:2047.50px;width:44.50px;height:26.25px;line-height:26.25px;text-align:center;color:#222;text-indent:0.85px;">5</div>
<div class="t dj" style="left:55.00px;top:2047.50px;width:132.40px;height:26.25px;line-height:26.25px;text-align:left;">高橋優</div>
<div class="t d" style="left:191.40px;top:2047.50px;width:177.40px;height:26.25px;line-height:26.25px;text-align:left;">1-2-5-81</div>
<div class="t d" style="left:373.00px;top:2047.50px;width:85.90px;height:26.25px;line-height:26.25px;text-align:right;">1.1%</div>
<div class="t d" style="left:463.30px;top:2047.50px;width:85.80px;height:26.25px;line-height:26.25px;text-align:right;">3.4%</div>
<div class="t d" style="left:553.50px;top:2047.50px;width:86.70px;height:26.25px;line-height:26.25px;text-align:right;">9.0%</div>
<div class="t d" style="left:642.40px;top:2047.50px;width:91.10px;height:26.25px;line-height:26.25px;text-align:center;text-indent:0.85px;">E</div>
<div class="r" style="left:8.50px;top:2073.75px;width:725.00px;height:26.25px;background:#DFE9FA"></div>
<div class="r" style="left:8.50px;top:2073.75px;width:44.50px;height:26.25px;background:#22A638"></div>
<div class="t d" style="left:8.50px;top:2073.75px;width:44.50px;height:26.25px;line-height:26.25px;text-align:center;color:#fff;text-indent:0.85px;">6</div>
<div class="t dj" style="left:55.00px;top:2073.75px;width:132.40px;height:26.25px;line-height:26.25px;text-align:left;">吉原寛人</div>
<div class="t d" style="left:191.40px;top:2073.75px;width:177.40px;height:26.25px;line-height:26.25px;text-align:left;">19-17-15-67</div>
<div class="t d" style="left:373.00px;top:2073.75px;width:85.90px;height:26.25px;line-height:26.25px;text-align:right;">16.1%</div>
<div class="t d" style="left:463.30px;top:2073.75px;width:85.80px;height:26.25px;line-height:26.25px;text-align:right;">30.5%</div>
<div class="t d" style="left:553.50px;top:2073.75px;width:86.70px;height:26.25px;line-height:26.25px;text-align:right;">43.2%</div>
<div class="t d" style="left:642.40px;top:2073.75px;width:91.10px;height:26.25px;line-height:26.25px;text-align:center;text-indent:0.85px;">C</div>
<div class="r" style="left:8.50px;top:2100.00px;width:44.50px;height:26.25px;background:#E79A1E"></div>
<div class="t d" style="left:8.50px;top:2100.00px;width:44.50px;height:26.25px;line-height:26.25px;text-align:center;color:#fff;text-indent:0.85px;">7</div>
<div class="t dj" style="left:55.00px;top:2100.00px;width:132.40px;height:26.25px;line-height:26.25px;text-align:left;">藤本現暉</div>
<div class="t d" style="left:191.40px;top:2100.00px;width:177.40px;height:26.25px;line-height:26.25px;text-align:left;">81-67-65-646</div>
<div class="t d" style="left:373.00px;top:2100.00px;width:85.90px;height:26.25px;line-height:26.25px;text-align:right;">9.4%</div>
<div class="t d" style="left:463.30px;top:2100.00px;width:85.80px;height:26.25px;line-height:26.25px;text-align:right;">17.2%</div>
<div class="t d" style="left:553.50px;top:2100.00px;width:86.70px;height:26.25px;line-height:26.25px;text-align:right;">24.8%</div>
<div class="t d" style="left:642.40px;top:2100.00px;width:91.10px;height:26.25px;line-height:26.25px;text-align:center;text-indent:0.85px;">D</div>
<div class="r" style="left:8.50px;top:2126.25px;width:725.00px;height:26.25px;background:#DFE9FA"></div>
<div class="r" style="left:8.50px;top:2126.25px;width:44.50px;height:26.25px;background:#E79A1E"></div>
<div class="t d" style="left:8.50px;top:2126.25px;width:44.50px;height:26.25px;line-height:26.25px;text-align:center;color:#fff;text-indent:0.85px;">8</div>
<div class="t dj" style="left:55.00px;top:2126.25px;width:132.40px;height:26.25px;line-height:26.25px;text-align:left;">杉山海波</div>
<div class="t d" style="left:191.40px;top:2126.25px;width:177.40px;height:26.25px;line-height:26.25px;text-align:left;">0-4-3-69</div>
<div class="t d" style="left:373.00px;top:2126.25px;width:85.90px;height:26.25px;line-height:26.25px;text-align:right;">0.0%</div>
<div class="t d" style="left:463.30px;top:2126.25px;width:85.80px;height:26.25px;line-height:26.25px;text-align:right;">5.3%</div>
<div class="t d" style="left:553.50px;top:2126.25px;width:86.70px;height:26.25px;line-height:26.25px;text-align:right;">9.2%</div>
<div class="t d" style="left:642.40px;top:2126.25px;width:91.10px;height:26.25px;line-height:26.25px;text-align:center;text-indent:0.85px;">E</div>
<div class="r" style="left:8.50px;top:2152.50px;width:44.50px;height:26.25px;background:#E04E96"></div>
<div class="t d" style="left:8.50px;top:2152.50px;width:44.50px;height:26.25px;line-height:26.25px;text-align:center;color:#fff;text-indent:0.85px;">9</div>
<div class="t dj" style="left:55.00px;top:2152.50px;width:132.40px;height:26.25px;line-height:26.25px;text-align:left;">鷹見陸</div>
<div class="t d" style="left:191.40px;top:2152.50px;width:177.40px;height:26.25px;line-height:26.25px;text-align:left;">8-5-10-95</div>
<div class="t d" style="left:373.00px;top:2152.50px;width:85.90px;height:26.25px;line-height:26.25px;text-align:right;">6.8%</div>
<div class="t d" style="left:463.30px;top:2152.50px;width:85.80px;height:26.25px;line-height:26.25px;text-align:right;">11.0%</div>
<div class="t d" style="left:553.50px;top:2152.50px;width:86.70px;height:26.25px;line-height:26.25px;text-align:right;">19.5%</div>
<div class="t d" style="left:642.40px;top:2152.50px;width:91.10px;height:26.25px;line-height:26.25px;text-align:center;text-indent:0.85px;">D</div>
<div class="r" style="left:8.50px;top:2178.75px;width:725.00px;height:26.25px;background:#DFE9FA"></div>
<div class="r" style="left:370.80px;top:2178.75px;width:90.30px;height:26.25px;background:#FCE4D6"></div>
<div class="r" style="left:8.50px;top:2178.75px;width:44.50px;height:26.25px;background:#E04E96"></div>
<div class="t d" style="left:8.50px;top:2178.75px;width:44.50px;height:26.25px;line-height:26.25px;text-align:center;color:#fff;text-indent:0.85px;">10</div>
<div class="t dj" style="left:55.00px;top:2178.75px;width:132.40px;height:26.25px;line-height:26.25px;text-align:left;">東原悠善</div>
<div class="t d" style="left:191.40px;top:2178.75px;width:177.40px;height:26.25px;line-height:26.25px;text-align:left;">13-10-21-343</div>
<div class="t d" style="left:373.00px;top:2178.75px;width:85.90px;height:26.25px;line-height:26.25px;text-align:right;">3.4%</div>
<div class="t d" style="left:463.30px;top:2178.75px;width:85.80px;height:26.25px;line-height:26.25px;text-align:right;">5.9%</div>
<div class="t d" style="left:553.50px;top:2178.75px;width:86.70px;height:26.25px;line-height:26.25px;text-align:right;">11.4%</div>
<div class="t d" style="left:642.40px;top:2178.75px;width:91.10px;height:26.25px;line-height:26.25px;text-align:center;text-indent:0.85px;">C</div>
<div class="r" style="left:8.00px;top:1909.50px;width:726.00px;height:1px;background:#555555"></div>
<div class="r" style="left:8.00px;top:1942.00px;width:726.00px;height:1px;background:#555555"></div>
<div class="r" style="left:8.00px;top:1968.25px;width:726.00px;height:1px;background:#555555"></div>
<div class="r" style="left:8.00px;top:1994.50px;width:726.00px;height:1px;background:#555555"></div>
<div class="r" style="left:8.00px;top:2020.75px;width:726.00px;height:1px;background:#555555"></div>
<div class="r" style="left:8.00px;top:2047.00px;width:726.00px;height:1px;background:#555555"></div>
<div class="r" style="left:8.00px;top:2073.25px;width:726.00px;height:1px;background:#555555"></div>
<div class="r" style="left:8.00px;top:2099.50px;width:726.00px;height:1px;background:#555555"></div>
<div class="r" style="left:8.00px;top:2125.75px;width:726.00px;height:1px;background:#555555"></div>
<div class="r" style="left:8.00px;top:2152.00px;width:726.00px;height:1px;background:#555555"></div>
<div class="r" style="left:8.00px;top:2178.25px;width:726.00px;height:1px;background:#555555"></div>
<div class="r" style="left:8.00px;top:2204.50px;width:726.00px;height:1px;background:#555555"></div>
<div class="r" style="left:8.00px;top:1909.50px;width:1px;height:296.00px;background:#555555"></div>
<div class="r" style="left:52.50px;top:1909.50px;width:1px;height:296.00px;background:#555555"></div>
<div class="r" style="left:188.90px;top:1909.50px;width:1px;height:296.00px;background:#555555"></div>
<div class="r" style="left:370.30px;top:1909.50px;width:1px;height:296.00px;background:#555555"></div>
<div class="r" style="left:460.60px;top:1909.50px;width:1px;height:296.00px;background:#555555"></div>
<div class="r" style="left:550.80px;top:1909.50px;width:1px;height:296.00px;background:#555555"></div>
<div class="r" style="left:641.90px;top:1909.50px;width:1px;height:296.00px;background:#555555"></div>
<div class="r" style="left:733.00px;top:1909.50px;width:1px;height:296.00px;background:#555555"></div>
<div class="r" style="left:8.00px;top:1877.00px;width:726.00px;height:1px;background:#555555"></div>
<div class="r" style="left:8.00px;top:1877.50px;width:1px;height:32.50px;background:#555555"></div>
<div class="r" style="left:733.00px;top:1877.50px;width:1px;height:32.50px;background:#555555"></div>
<div class="r dot" style="left:13.00px;top:2236.05px"></div>
<div class="t sec" style="left:8.50px;top:2223.50px;width:725.00px;height:32.50px;line-height:32.50px;text-align:left;left:26.00px">厩舎別成績　過去<span class="sn">5</span>年　頭数指定なし</div>
<div class="r" style="left:8.50px;top:2257.50px;width:725.00px;height:32.50px;background:#203864"></div>
<div class="t hb" style="left:8.50px;top:2257.50px;width:44.50px;height:32.50px;line-height:32.50px;text-align:center;font-size:13.5px">馬番</div>
<div class="t hb" style="left:53.00px;top:2257.50px;width:136.40px;height:32.50px;line-height:32.50px;text-align:center;">厩舎</div>
<div class="t hb" style="left:189.40px;top:2257.50px;width:181.40px;height:32.50px;line-height:32.50px;text-align:center;">着別度数</div>
<div class="t hb" style="left:370.80px;top:2257.50px;width:90.30px;height:32.50px;line-height:32.50px;text-align:center;">勝率</div>
<div class="t hb" style="left:461.10px;top:2257.50px;width:90.20px;height:32.50px;line-height:32.50px;text-align:center;">連対率</div>
<div class="t hb" style="left:551.30px;top:2257.50px;width:91.10px;height:32.50px;line-height:32.50px;text-align:center;">複勝率</div>
<div class="t hb" style="left:642.40px;top:2257.50px;width:91.10px;height:32.50px;line-height:32.50px;text-align:center;">評価</div>
<div class="r" style="left:370.80px;top:2290.00px;width:90.30px;height:26.30px;background:#FCE4D6"></div>
<div class="r" style="left:8.50px;top:2290.00px;width:44.50px;height:26.30px;background:#F0F0F0"></div>
<div class="t d" style="left:8.50px;top:2290.00px;width:44.50px;height:26.30px;line-height:26.30px;text-align:center;color:#222;text-indent:0.85px;">1</div>
<div class="t dj" style="left:55.00px;top:2290.00px;width:132.40px;height:26.30px;line-height:26.30px;text-align:left;">坂井英光</div>
<div class="t d" style="left:191.40px;top:2290.00px;width:177.40px;height:26.30px;line-height:26.30px;text-align:left;">64-22-13-112</div>
<div class="t d" style="left:373.00px;top:2290.00px;width:85.90px;height:26.30px;line-height:26.30px;text-align:right;">30.3%</div>
<div class="t d" style="left:463.30px;top:2290.00px;width:85.80px;height:26.30px;line-height:26.30px;text-align:right;">40.8%</div>
<div class="t d" style="left:553.50px;top:2290.00px;width:86.70px;height:26.30px;line-height:26.30px;text-align:right;">46.9%</div>
<div class="t d" style="left:642.40px;top:2290.00px;width:91.10px;height:26.30px;line-height:26.30px;text-align:center;text-indent:0.85px;">B</div>
<div class="r" style="left:8.50px;top:2316.30px;width:725.00px;height:26.30px;background:#DFE9FA"></div>
<div class="r" style="left:8.50px;top:2316.30px;width:44.50px;height:26.30px;background:#000000"></div>
<div class="t d" style="left:8.50px;top:2316.30px;width:44.50px;height:26.30px;line-height:26.30px;text-align:center;color:#fff;text-indent:0.85px;">2</div>
<div class="t dj" style="left:55.00px;top:2316.30px;width:132.40px;height:26.30px;line-height:26.30px;text-align:left;">高野毅</div>
<div class="t d" style="left:191.40px;top:2316.30px;width:177.40px;height:26.30px;line-height:26.30px;text-align:left;">17-10-16-151</div>
<div class="t d" style="left:373.00px;top:2316.30px;width:85.90px;height:26.30px;line-height:26.30px;text-align:right;">8.8%</div>
<div class="t d" style="left:463.30px;top:2316.30px;width:85.80px;height:26.30px;line-height:26.30px;text-align:right;">13.9%</div>
<div class="t d" style="left:553.50px;top:2316.30px;width:86.70px;height:26.30px;line-height:26.30px;text-align:right;">22.2%</div>
<div class="t d" style="left:642.40px;top:2316.30px;width:91.10px;height:26.30px;line-height:26.30px;text-align:center;text-indent:0.85px;">D</div>
<div class="r" style="left:8.50px;top:2342.60px;width:44.50px;height:26.30px;background:#E94433"></div>
<div class="t d" style="left:8.50px;top:2342.60px;width:44.50px;height:26.30px;line-height:26.30px;text-align:center;color:#fff;text-indent:0.85px;">3</div>
<div class="t dj" style="left:55.00px;top:2342.60px;width:132.40px;height:26.30px;line-height:26.30px;text-align:left;">荒井朋弘</div>
<div class="t d" style="left:191.40px;top:2342.60px;width:177.40px;height:26.30px;line-height:26.30px;text-align:left;">28-22-32-285</div>
<div class="t d" style="left:373.00px;top:2342.60px;width:85.90px;height:26.30px;line-height:26.30px;text-align:right;">7.6%</div>
<div class="t d" style="left:463.30px;top:2342.60px;width:85.80px;height:26.30px;line-height:26.30px;text-align:right;">13.6%</div>
<div class="t d" style="left:553.50px;top:2342.60px;width:86.70px;height:26.30px;line-height:26.30px;text-align:right;">22.3%</div>
<div class="t d" style="left:642.40px;top:2342.60px;width:91.10px;height:26.30px;line-height:26.30px;text-align:center;text-indent:0.85px;">D</div>
<div class="r" style="left:8.50px;top:2368.90px;width:725.00px;height:26.30px;background:#DFE9FA"></div>
<div class="r" style="left:370.80px;top:2368.90px;width:90.30px;height:26.30px;background:#FCE4D6"></div>
<div class="r" style="left:8.50px;top:2368.90px;width:44.50px;height:26.30px;background:#4285F4"></div>
<div class="t d" style="left:8.50px;top:2368.90px;width:44.50px;height:26.30px;line-height:26.30px;text-align:center;color:#fff;text-indent:0.85px;">4</div>
<div class="t dj" style="left:55.00px;top:2368.90px;width:132.40px;height:26.30px;line-height:26.30px;text-align:left;">阪本一栄</div>
<div class="t d" style="left:191.40px;top:2368.90px;width:177.40px;height:26.30px;line-height:26.30px;text-align:left;">79-89-65-565</div>
<div class="t d" style="left:373.00px;top:2368.90px;width:85.90px;height:26.30px;line-height:26.30px;text-align:right;">9.9%</div>
<div class="t d" style="left:463.30px;top:2368.90px;width:85.80px;height:26.30px;line-height:26.30px;text-align:right;">21.1%</div>
<div class="t d" style="left:553.50px;top:2368.90px;width:86.70px;height:26.30px;line-height:26.30px;text-align:right;">29.2%</div>
<div class="t d" style="left:642.40px;top:2368.90px;width:91.10px;height:26.30px;line-height:26.30px;text-align:center;text-indent:0.85px;">C</div>
<div class="r" style="left:370.80px;top:2395.20px;width:90.30px;height:26.30px;background:#FCE4D6"></div>
<div class="r" style="left:8.50px;top:2395.20px;width:44.50px;height:26.30px;background:#F4CB00"></div>
<div class="t d" style="left:8.50px;top:2395.20px;width:44.50px;height:26.30px;line-height:26.30px;text-align:center;color:#222;text-indent:0.85px;">5</div>
<div class="t dj" style="left:55.00px;top:2395.20px;width:132.40px;height:26.30px;line-height:26.30px;text-align:left;">鷹見浩</div>
<div class="t d" style="left:191.40px;top:2395.20px;width:177.40px;height:26.30px;line-height:26.30px;text-align:left;">36-30-43-371</div>
<div class="t d" style="left:373.00px;top:2395.20px;width:85.90px;height:26.30px;line-height:26.30px;text-align:right;">7.5%</div>
<div class="t d" style="left:463.30px;top:2395.20px;width:85.80px;height:26.30px;line-height:26.30px;text-align:right;">13.8%</div>
<div class="t d" style="left:553.50px;top:2395.20px;width:86.70px;height:26.30px;line-height:26.30px;text-align:right;">22.7%</div>
<div class="t d" style="left:642.40px;top:2395.20px;width:91.10px;height:26.30px;line-height:26.30px;text-align:center;text-indent:0.85px;">C</div>
<div class="r" style="left:8.50px;top:2421.50px;width:725.00px;height:26.30px;background:#DFE9FA"></div>
<div class="r" style="left:8.50px;top:2421.50px;width:44.50px;height:26.30px;background:#22A638"></div>
<div class="t d" style="left:8.50px;top:2421.50px;width:44.50px;height:26.30px;line-height:26.30px;text-align:center;color:#fff;text-indent:0.85px;">6</div>
<div class="t dj" style="left:55.00px;top:2421.50px;width:132.40px;height:26.30px;line-height:26.30px;text-align:left;">渡部則夫</div>
<div class="t d" style="left:191.40px;top:2421.50px;width:177.40px;height:26.30px;line-height:26.30px;text-align:left;">10-15-14-324</div>
<div class="t d" style="left:373.00px;top:2421.50px;width:85.90px;height:26.30px;line-height:26.30px;text-align:right;">2.8%</div>
<div class="t d" style="left:463.30px;top:2421.50px;width:85.80px;height:26.30px;line-height:26.30px;text-align:right;">6.9%</div>
<div class="t d" style="left:553.50px;top:2421.50px;width:86.70px;height:26.30px;line-height:26.30px;text-align:right;">10.7%</div>
<div class="t d" style="left:642.40px;top:2421.50px;width:91.10px;height:26.30px;line-height:26.30px;text-align:center;text-indent:0.85px;">D</div>
<div class="r" style="left:370.80px;top:2447.80px;width:90.30px;height:26.30px;background:#FCE4D6"></div>
<div class="r" style="left:8.50px;top:2447.80px;width:44.50px;height:26.30px;background:#E79A1E"></div>
<div class="t d" style="left:8.50px;top:2447.80px;width:44.50px;height:26.30px;line-height:26.30px;text-align:center;color:#fff;text-indent:0.85px;">7</div>
<div class="t dj" style="left:55.00px;top:2447.80px;width:132.40px;height:26.30px;line-height:26.30px;text-align:left;">阪本一栄</div>
<div class="t d" style="left:191.40px;top:2447.80px;width:177.40px;height:26.30px;line-height:26.30px;text-align:left;">79-89-65-565</div>
<div class="t d" style="left:373.00px;top:2447.80px;width:85.90px;height:26.30px;line-height:26.30px;text-align:right;">9.9%</div>
<div class="t d" style="left:463.30px;top:2447.80px;width:85.80px;height:26.30px;line-height:26.30px;text-align:right;">21.1%</div>
<div class="t d" style="left:553.50px;top:2447.80px;width:86.70px;height:26.30px;line-height:26.30px;text-align:right;">29.2%</div>
<div class="t d" style="left:642.40px;top:2447.80px;width:91.10px;height:26.30px;line-height:26.30px;text-align:center;text-indent:0.85px;">C</div>
<div class="r" style="left:8.50px;top:2474.10px;width:725.00px;height:26.30px;background:#DFE9FA"></div>
<div class="r" style="left:370.80px;top:2474.10px;width:90.30px;height:26.30px;background:#FCE4D6"></div>
<div class="r" style="left:8.50px;top:2474.10px;width:44.50px;height:26.30px;background:#E79A1E"></div>
<div class="t d" style="left:8.50px;top:2474.10px;width:44.50px;height:26.30px;line-height:26.30px;text-align:center;color:#fff;text-indent:0.85px;">8</div>
<div class="t dj" style="left:55.00px;top:2474.10px;width:132.40px;height:26.30px;line-height:26.30px;text-align:left;">岡野尚光</div>
<div class="t d" style="left:191.40px;top:2474.10px;width:177.40px;height:26.30px;line-height:26.30px;text-align:left;">13-12-24-234</div>
<div class="t d" style="left:373.00px;top:2474.10px;width:85.90px;height:26.30px;line-height:26.30px;text-align:right;">4.6%</div>
<div class="t d" style="left:463.30px;top:2474.10px;width:85.80px;height:26.30px;line-height:26.30px;text-align:right;">8.8%</div>
<div class="t d" style="left:553.50px;top:2474.10px;width:86.70px;height:26.30px;line-height:26.30px;text-align:right;">17.3%</div>
<div class="t d" style="left:642.40px;top:2474.10px;width:91.10px;height:26.30px;line-height:26.30px;text-align:center;text-indent:0.85px;">C</div>
<div class="r" style="left:8.50px;top:2500.40px;width:44.50px;height:26.30px;background:#E04E96"></div>
<div class="t d" style="left:8.50px;top:2500.40px;width:44.50px;height:26.30px;line-height:26.30px;text-align:center;color:#fff;text-indent:0.85px;">9</div>
<div class="t dj" style="left:55.00px;top:2500.40px;width:132.40px;height:26.30px;line-height:26.30px;text-align:left;">藤田輝信</div>
<div class="t d" style="left:191.40px;top:2500.40px;width:177.40px;height:26.30px;line-height:26.30px;text-align:left;">93-68-51-294</div>
<div class="t d" style="left:373.00px;top:2500.40px;width:85.90px;height:26.30px;line-height:26.30px;text-align:right;">18.4%</div>
<div class="t d" style="left:463.30px;top:2500.40px;width:85.80px;height:26.30px;line-height:26.30px;text-align:right;">31.8%</div>
<div class="t d" style="left:553.50px;top:2500.40px;width:86.70px;height:26.30px;line-height:26.30px;text-align:right;">41.9%</div>
<div class="t d" style="left:642.40px;top:2500.40px;width:91.10px;height:26.30px;line-height:26.30px;text-align:center;text-indent:0.85px;">C</div>
<div class="r" style="left:8.50px;top:2526.70px;width:725.00px;height:26.30px;background:#DFE9FA"></div>
<div class="r" style="left:370.80px;top:2526.70px;width:90.30px;height:26.30px;background:#FCE4D6"></div>
<div class="r" style="left:8.50px;top:2526.70px;width:44.50px;height:26.30px;background:#E04E96"></div>
<div class="t d" style="left:8.50px;top:2526.70px;width:44.50px;height:26.30px;line-height:26.30px;text-align:center;color:#fff;text-indent:0.85px;">10</div>
<div class="t dj" style="left:55.00px;top:2526.70px;width:132.40px;height:26.30px;line-height:26.30px;text-align:left;">澤佳宏</div>
<div class="t d" style="left:191.40px;top:2526.70px;width:177.40px;height:26.30px;line-height:26.30px;text-align:left;">45-31-28-315</div>
<div class="t d" style="left:373.00px;top:2526.70px;width:85.90px;height:26.30px;line-height:26.30px;text-align:right;">10.7%</div>
<div class="t d" style="left:463.30px;top:2526.70px;width:85.80px;height:26.30px;line-height:26.30px;text-align:right;">18.1%</div>
<div class="t d" style="left:553.50px;top:2526.70px;width:86.70px;height:26.30px;line-height:26.30px;text-align:right;">24.8%</div>
<div class="t d" style="left:642.40px;top:2526.70px;width:91.10px;height:26.30px;line-height:26.30px;text-align:center;text-indent:0.85px;">C</div>
<div class="r" style="left:8.00px;top:2257.00px;width:726.00px;height:1px;background:#555555"></div>
<div class="r" style="left:8.00px;top:2289.50px;width:726.00px;height:1px;background:#555555"></div>
<div class="r" style="left:8.00px;top:2315.80px;width:726.00px;height:1px;background:#555555"></div>
<div class="r" style="left:8.00px;top:2342.10px;width:726.00px;height:1px;background:#555555"></div>
<div class="r" style="left:8.00px;top:2368.40px;width:726.00px;height:1px;background:#555555"></div>
<div class="r" style="left:8.00px;top:2394.70px;width:726.00px;height:1px;background:#555555"></div>
<div class="r" style="left:8.00px;top:2421.00px;width:726.00px;height:1px;background:#555555"></div>
<div class="r" style="left:8.00px;top:2447.30px;width:726.00px;height:1px;background:#555555"></div>
<div class="r" style="left:8.00px;top:2473.60px;width:726.00px;height:1px;background:#555555"></div>
<div class="r" style="left:8.00px;top:2499.90px;width:726.00px;height:1px;background:#555555"></div>
<div class="r" style="left:8.00px;top:2526.20px;width:726.00px;height:1px;background:#555555"></div>
<div class="r" style="left:8.00px;top:2552.50px;width:726.00px;height:1px;background:#555555"></div>
<div class="r" style="left:8.00px;top:2257.00px;width:1px;height:296.50px;background:#555555"></div>
<div class="r" style="left:52.50px;top:2257.00px;width:1px;height:296.50px;background:#555555"></div>
<div class="r" style="left:188.90px;top:2257.00px;width:1px;height:296.50px;background:#555555"></div>
<div class="r" style="left:370.30px;top:2257.00px;width:1px;height:296.50px;background:#555555"></div>
<div class="r" style="left:460.60px;top:2257.00px;width:1px;height:296.50px;background:#555555"></div>
<div class="r" style="left:550.80px;top:2257.00px;width:1px;height:296.50px;background:#555555"></div>
<div class="r" style="left:641.90px;top:2257.00px;width:1px;height:296.50px;background:#555555"></div>
<div class="r" style="left:733.00px;top:2257.00px;width:1px;height:296.50px;background:#555555"></div>
<div class="r" style="left:8.00px;top:2224.50px;width:726.00px;height:1px;background:#555555"></div>
<div class="r" style="left:8.00px;top:2225.00px;width:1px;height:32.50px;background:#555555"></div>
<div class="r" style="left:733.00px;top:2225.00px;width:1px;height:32.50px;background:#555555"></div>
</body></html>
